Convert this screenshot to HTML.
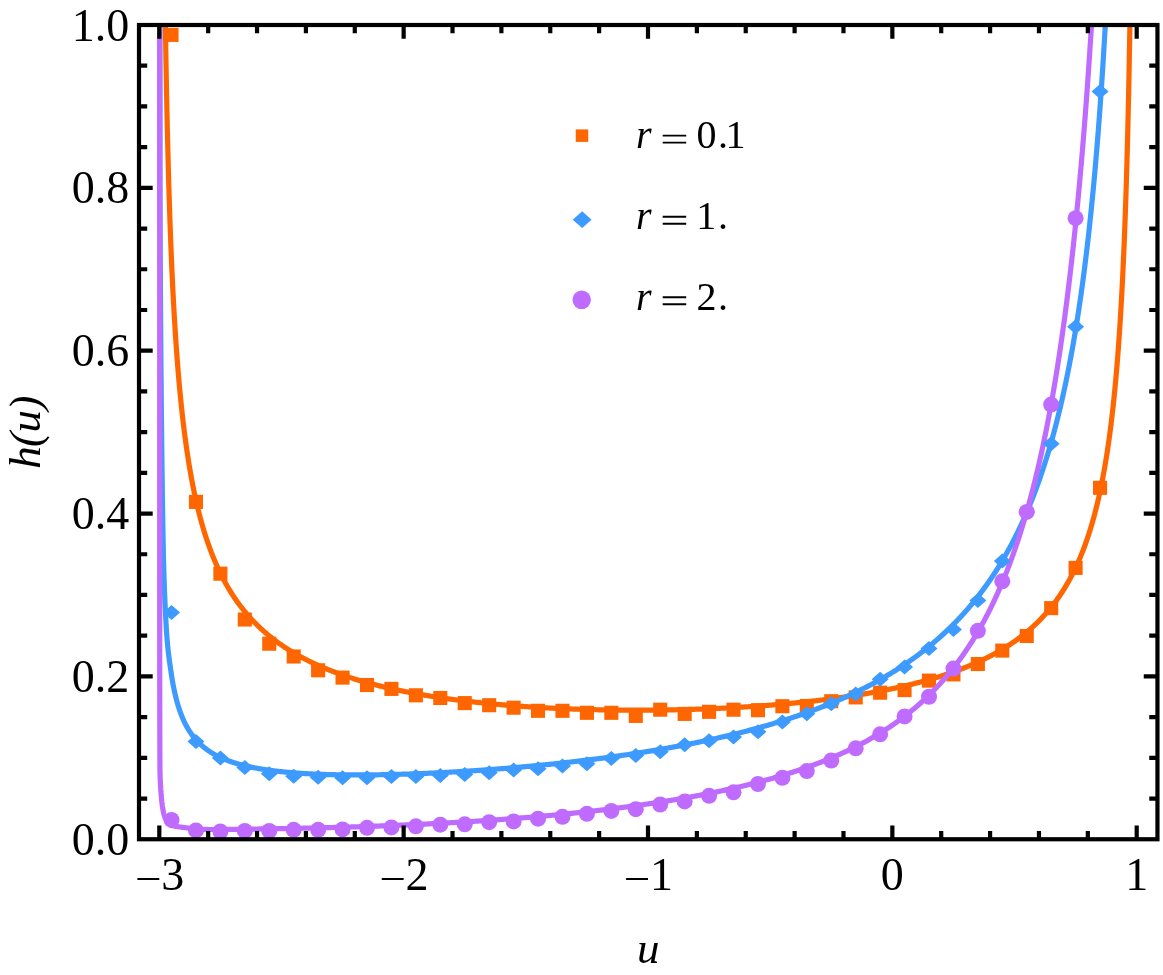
<!DOCTYPE html>
<html><head><meta charset="utf-8"><title>h(u)</title>
<style>
html,body{margin:0;padding:0;background:#fff;}
body{width:1163px;height:975px;overflow:hidden;}
svg{display:block;font-family:"Liberation Serif",serif;will-change:transform;}
</style></head><body>
<svg width="1163" height="975" viewBox="0 0 1163 975">
<rect width="1163" height="975" fill="#fff"/>
<defs><clipPath id="c"><rect x="139.0" y="25.0" width="1018.45" height="814.25"/></clipPath></defs>
<g clip-path="url(#c)" fill="none" stroke-width="5.2" stroke-linejoin="round">
<g fill="#ff6600" stroke="none"><rect x="164.47" y="27.85" width="14.1" height="14.1"/><rect x="188.9" y="494.85" width="14.1" height="14.1"/><rect x="213.34" y="566.65" width="14.1" height="14.1"/><rect x="237.77" y="612.45" width="14.1" height="14.1"/><rect x="262.21" y="636.65" width="14.1" height="14.1"/><rect x="286.64" y="649.45" width="14.1" height="14.1"/><rect x="311.08" y="663.25" width="14.1" height="14.1"/><rect x="335.51" y="670.55" width="14.1" height="14.1"/><rect x="359.95" y="677.95" width="14.1" height="14.1"/><rect x="384.38" y="681.85" width="14.1" height="14.1"/><rect x="408.82" y="688.25" width="14.1" height="14.1"/><rect x="433.25" y="690.95" width="14.1" height="14.1"/><rect x="457.69" y="696.05" width="14.1" height="14.1"/><rect x="482.12" y="698.15" width="14.1" height="14.1"/><rect x="506.56" y="700.65" width="14.1" height="14.1"/><rect x="530.99" y="703.75" width="14.1" height="14.1"/><rect x="555.43" y="703.75" width="14.1" height="14.1"/><rect x="579.86" y="705.75" width="14.1" height="14.1"/><rect x="604.3" y="705.75" width="14.1" height="14.1"/><rect x="628.73" y="708.85" width="14.1" height="14.1"/><rect x="653.17" y="702.65" width="14.1" height="14.1"/><rect x="677.6" y="706.85" width="14.1" height="14.1"/><rect x="702.04" y="704.75" width="14.1" height="14.1"/><rect x="726.47" y="702.65" width="14.1" height="14.1"/><rect x="750.91" y="703.15" width="14.1" height="14.1"/><rect x="775.34" y="699.15" width="14.1" height="14.1"/><rect x="799.78" y="698.95" width="14.1" height="14.1"/><rect x="824.21" y="694.15" width="14.1" height="14.1"/><rect x="848.65" y="690.35" width="14.1" height="14.1"/><rect x="873.08" y="685.65" width="14.1" height="14.1"/><rect x="897.52" y="683.05" width="14.1" height="14.1"/><rect x="921.95" y="673.55" width="14.1" height="14.1"/><rect x="946.39" y="667.35" width="14.1" height="14.1"/><rect x="970.82" y="656.95" width="14.1" height="14.1"/><rect x="995.26" y="643.55" width="14.1" height="14.1"/><rect x="1019.69" y="628.95" width="14.1" height="14.1"/><rect x="1044.13" y="601.05" width="14.1" height="14.1"/><rect x="1068.56" y="560.85" width="14.1" height="14.1"/><rect x="1093" y="480.75" width="14.1" height="14.1"/></g>
<path d="M164.89,-10.28 L165.04,1.12 L165.2,12.22 L165.36,23.02 L165.52,33.54 L165.68,43.79 L165.85,53.78 L166.02,63.51 L166.19,73.01 L166.36,82.27 L166.54,91.3 L166.71,100.12 L166.89,108.73 L167.07,117.13 L167.26,125.35 L167.44,133.37 L167.63,141.21 L167.82,148.88 L168.01,156.38 L168.2,163.71 L168.4,170.89 L168.59,177.91 L168.79,184.78 L169,191.51 L169.2,198.09 L169.41,204.54 L169.61,210.87 L169.83,217.06 L170.04,223.13 L170.25,229.08 L170.47,234.91 L170.69,240.63 L170.91,246.24 L171.13,251.74 L171.36,257.14 L171.58,262.44 L171.81,267.64 L172.04,272.75 L172.28,277.76 L172.51,282.68 L172.75,287.52 L172.99,292.27 L173.23,296.93 L173.47,301.52 L173.72,306.02 L173.97,310.45 L174.22,314.8 L174.47,319.08 L174.72,323.29 L174.98,327.43 L175.24,331.5 L175.5,335.5 L175.76,339.44 L176.03,343.32 L176.29,347.13 L176.56,350.89 L176.83,354.58 L177.11,358.22 L177.38,361.8 L177.66,365.33 L177.94,368.8 L178.22,372.23 L178.5,375.6 L178.79,378.91 L179.07,382.19 L179.36,385.41 L179.65,388.58 L179.95,391.71 L180.24,394.8 L180.54,397.84 L180.84,400.84 L181.14,403.79 L181.45,406.71 L181.75,409.58 L182.06,412.41 L182.37,415.21 L182.68,417.97 L182.99,420.69 L183.31,423.37 L183.63,426.02 L183.95,428.63 L184.27,431.21 L184.6,433.75 L184.92,436.26 L185.25,438.74 L185.58,441.19 L185.91,443.6 L186.25,445.99 L186.58,448.34 L186.92,450.67 L187.26,452.96 L187.6,455.23 L187.95,457.47 L188.29,459.68 L188.64,461.87 L188.99,464.03 L189.35,466.16 L189.7,468.27 L190.06,470.35 L190.42,472.41 L190.78,474.44 L191.14,476.45 L191.5,478.43 L191.87,480.4 L192.24,482.34 L192.61,484.26 L192.98,486.15 L193.36,488.03 L193.73,489.88 L194.11,491.71 L194.49,493.52 L194.87,495.32 L195.26,497.09 L195.64,498.84 L196.03,500.57 L196.42,502.29 L196.82,503.98 L197.21,505.66 L197.61,507.32 L198,508.96 L198.41,510.59 L198.81,512.19 L199.21,513.78 L199.62,515.36 L200.03,516.92 L200.44,518.46 L200.85,519.98 L201.26,521.49 L201.68,522.99 L202.1,524.46 L202.52,525.93 L202.94,527.38 L203.36,528.81 L203.79,530.23 L204.22,531.64 L204.65,533.03 L205.08,534.41 L205.51,535.77 L205.95,537.12 L206.38,538.46 L206.82,539.79 L207.27,541.1 L207.71,542.4 L208.15,543.69 L208.6,544.96 L209.05,546.23 L209.5,547.48 L209.95,548.72 L210.41,549.94 L210.87,551.16 L211.32,552.36 L211.79,553.56 L212.25,554.74 L212.71,555.91 L213.18,557.07 L213.65,558.22 L214.12,559.36 L214.59,560.49 L215.06,561.61 L215.54,562.72 L216.02,563.82 L216.5,564.91 L216.98,565.99 L217.46,567.06 L217.95,568.12 L218.43,569.18 L218.92,570.22 L219.42,571.25 L219.91,572.28 L220.4,573.29 L220.9,574.3 L221.4,575.3 L221.9,576.29 L222.4,577.27 L222.9,578.24 L223.41,579.2 L223.92,580.16 L224.43,581.11 L224.94,582.05 L225.45,582.98 L225.97,583.91 L226.49,584.82 L227.01,585.73 L227.53,586.64 L228.05,587.53 L228.57,588.42 L229.1,589.3 L229.63,590.17 L230.16,591.04 L230.69,591.9 L231.22,592.75 L231.76,593.59 L232.3,594.43 L232.84,595.26 L233.38,596.09 L233.92,596.91 L234.46,597.72 L235.01,598.52 L235.56,599.32 L236.11,600.12 L236.66,600.9 L237.22,601.68 L237.77,602.46 L238.33,603.23 L238.89,603.99 L239.45,604.75 L240.01,605.5 L240.58,606.24 L241.14,606.98 L241.71,607.72 L242.28,608.45 L242.85,609.17 L243.43,609.89 L244,610.6 L244.58,611.3 L245.16,612.01 L245.74,612.7 L246.32,613.39 L246.9,614.08 L247.49,614.76 L248.08,615.44 L248.67,616.11 L249.26,616.77 L249.85,617.43 L250.44,618.09 L251.04,618.74 L251.64,619.39 L252.24,620.03 L252.84,620.67 L253.44,621.3 L254.05,621.93 L254.66,622.55 L255.26,623.17 L255.87,623.78 L256.49,624.39 L257.1,625 L257.71,625.6 L258.33,626.2 L258.95,626.79 L259.57,627.38 L260.19,627.97 L260.82,628.55 L261.44,629.12 L262.07,629.7 L262.7,630.26 L263.33,630.83 L263.96,631.39 L264.6,631.95 L265.23,632.5 L265.87,633.05 L266.51,633.59 L267.15,634.14 L267.79,634.67 L268.44,635.21 L269.08,635.74 L269.73,636.27 L270.38,636.79 L271.03,637.31 L271.68,637.83 L272.34,638.34 L272.99,638.85 L273.65,639.35 L274.31,639.86 L274.97,640.36 L275.63,640.85 L276.29,641.35 L276.96,641.83 L277.63,642.32 L278.3,642.8 L278.97,643.28 L279.64,643.76 L280.31,644.23 L280.99,644.7 L281.66,645.17 L282.34,645.63 L283.02,646.09 L283.7,646.55 L284.39,647.01 L285.07,647.46 L285.76,647.91 L286.45,648.36 L287.14,648.8 L287.83,649.24 L288.52,649.68 L289.21,650.11 L289.91,650.54 L290.61,650.97 L291.31,651.4 L292.01,651.82 L292.71,652.24 L293.41,652.66 L294.12,653.08 L294.83,653.49 L295.54,653.9 L296.25,654.31 L296.96,654.71 L297.67,655.11 L298.38,655.51 L299.1,655.91 L299.82,656.31 L300.54,656.7 L301.26,657.09 L301.98,657.48 L302.7,657.86 L303.43,658.24 L304.16,658.62 L304.88,659 L305.61,659.38 L306.35,659.75 L307.08,660.12 L307.81,660.49 L308.55,660.85 L309.29,661.22 L310.03,661.58 L310.77,661.94 L311.51,662.3 L312.25,662.65 L313,663 L313.74,663.35 L314.49,663.7 L315.24,664.05 L315.99,664.39 L316.74,664.73 L317.49,665.07 L318.25,665.41 L319.01,665.75 L319.76,666.08 L320.52,666.41 L321.28,666.74 L322.05,667.07 L322.81,667.39 L323.57,667.72 L324.34,668.04 L325.11,668.36 L325.88,668.68 L326.65,668.99 L327.42,669.31 L328.19,669.62 L328.97,669.93 L329.75,670.24 L330.52,670.54 L331.3,670.85 L332.08,671.15 L332.86,671.45 L333.65,671.75 L334.43,672.04 L335.22,672.34 L336.01,672.63 L336.79,672.92 L337.58,673.21 L338.38,673.5 L339.17,673.79 L339.96,674.07 L340.76,674.36 L341.56,674.64 L342.35,674.92 L343.15,675.19 L343.95,675.47 L344.76,675.74 L345.56,676.02 L346.37,676.29 L347.17,676.56 L347.98,676.82 L348.79,677.09 L349.6,677.36 L350.41,677.62 L351.22,677.88 L352.04,678.14 L352.85,678.4 L353.67,678.65 L354.49,678.91 L355.31,679.16 L356.13,679.42 L356.95,679.67 L357.77,679.92 L358.6,680.16 L359.42,680.41 L360.25,680.65 L361.08,680.9 L361.91,681.14 L362.74,681.38 L363.57,681.62 L364.4,681.85 L365.24,682.09 L366.07,682.32 L366.91,682.56 L367.75,682.79 L368.59,683.02 L369.43,683.25 L370.27,683.48 L371.11,683.7 L371.96,683.93 L372.8,684.15 L373.65,684.37 L374.5,684.59 L375.35,684.81 L376.2,685.03 L377.05,685.25 L377.9,685.46 L378.75,685.68 L379.61,685.89 L380.47,686.1 L381.32,686.31 L382.18,686.52 L383.04,686.73 L383.9,686.93 L384.76,687.14 L385.63,687.34 L386.49,687.54 L387.36,687.75 L388.22,687.95 L389.09,688.14 L389.96,688.34 L390.83,688.54 L391.7,688.73 L392.58,688.93 L393.45,689.12 L394.32,689.31 L395.2,689.5 L396.08,689.69 L396.95,689.88 L397.83,690.07 L398.71,690.25 L399.59,690.44 L400.48,690.62 L401.36,690.8 L402.24,690.98 L403.13,691.16 L404.02,691.34 L404.9,691.52 L405.79,691.7 L406.68,691.87 L407.57,692.05 L408.47,692.22 L409.36,692.39 L410.25,692.57 L411.15,692.74 L412.04,692.9 L412.94,693.07 L413.84,693.24 L414.74,693.41 L415.64,693.57 L416.54,693.73 L417.44,693.9 L418.35,694.06 L419.25,694.22 L420.15,694.38 L421.06,694.54 L421.97,694.7 L422.88,694.85 L423.79,695.01 L424.7,695.16 L425.61,695.32 L426.52,695.47 L427.43,695.62 L428.35,695.77 L429.26,695.92 L430.18,696.07 L431.1,696.22 L432.01,696.36 L432.93,696.51 L433.85,696.65 L434.77,696.8 L435.69,696.94 L436.62,697.08 L437.54,697.22 L438.47,697.36 L439.39,697.5 L440.32,697.64 L441.24,697.78 L442.17,697.91 L443.1,698.05 L444.03,698.18 L444.96,698.32 L445.89,698.45 L446.83,698.58 L447.76,698.71 L448.7,698.84 L449.63,698.97 L450.57,699.1 L451.5,699.23 L452.44,699.35 L453.38,699.48 L454.32,699.6 L455.26,699.73 L456.2,699.85 L457.14,699.97 L458.09,700.09 L459.03,700.21 L459.98,700.33 L460.92,700.45 L461.87,700.57 L462.81,700.69 L463.76,700.8 L464.71,700.92 L465.66,701.03 L466.61,701.15 L467.56,701.26 L468.51,701.37 L469.47,701.48 L470.42,701.59 L471.37,701.7 L472.33,701.81 L473.29,701.92 L474.24,702.02 L475.2,702.13 L476.16,702.24 L477.12,702.34 L478.08,702.44 L479.04,702.55 L480,702.65 L480.96,702.75 L481.92,702.85 L482.89,702.95 L483.85,703.05 L484.81,703.15 L485.78,703.25 L486.75,703.34 L487.71,703.44 L488.68,703.53 L489.65,703.63 L490.62,703.72 L491.59,703.81 L492.56,703.91 L493.53,704 L494.5,704.09 L495.47,704.18 L496.45,704.27 L497.42,704.36 L498.39,704.44 L499.37,704.53 L500.34,704.62 L501.32,704.7 L502.3,704.79 L503.28,704.87 L504.25,704.95 L505.23,705.04 L506.21,705.12 L507.19,705.2 L508.17,705.28 L509.15,705.36 L510.14,705.44 L511.12,705.52 L512.1,705.59 L513.09,705.67 L514.07,705.75 L515.06,705.82 L516.04,705.9 L517.03,705.97 L518.01,706.04 L519,706.12 L519.99,706.19 L520.98,706.26 L521.97,706.33 L522.96,706.4 L523.95,706.47 L524.94,706.54 L525.93,706.6 L526.92,706.67 L527.91,706.74 L528.9,706.8 L529.9,706.87 L530.89,706.93 L531.89,707 L532.88,707.06 L533.88,707.12 L534.87,707.18 L535.87,707.24 L536.87,707.3 L537.86,707.36 L538.86,707.42 L539.86,707.48 L540.86,707.54 L541.86,707.6 L542.86,707.65 L543.86,707.71 L544.86,707.76 L545.86,707.82 L546.86,707.87 L547.86,707.92 L548.86,707.98 L549.87,708.03 L550.87,708.08 L551.87,708.13 L552.88,708.18 L553.88,708.23 L554.89,708.28 L555.89,708.33 L556.9,708.37 L557.9,708.42 L558.91,708.47 L559.92,708.51 L560.93,708.56 L561.93,708.6 L562.94,708.64 L563.95,708.69 L564.96,708.73 L565.97,708.77 L566.98,708.81 L567.99,708.85 L569,708.89 L570.01,708.93 L571.02,708.97 L572.03,709.01 L573.04,709.04 L574.05,709.08 L575.07,709.12 L576.08,709.15 L577.09,709.19 L578.1,709.22 L579.12,709.26 L580.13,709.29 L581.15,709.32 L582.16,709.35 L583.17,709.38 L584.19,709.41 L585.21,709.44 L586.22,709.47 L587.24,709.5 L588.25,709.53 L589.27,709.56 L590.29,709.59 L591.3,709.61 L592.32,709.64 L593.34,709.66 L594.35,709.69 L595.37,709.71 L596.39,709.73 L597.41,709.76 L598.43,709.78 L599.45,709.8 L600.46,709.82 L601.48,709.84 L602.5,709.86 L603.52,709.88 L604.54,709.9 L605.56,709.92 L606.58,709.94 L607.6,709.95 L608.62,709.97 L609.64,709.99 L610.66,710 L611.69,710.01 L612.71,710.03 L613.73,710.04 L614.75,710.05 L615.77,710.07 L616.79,710.08 L617.81,710.09 L618.84,710.1 L619.86,710.11 L620.88,710.12 L621.9,710.13 L622.93,710.14 L623.95,710.14 L624.97,710.15 L625.99,710.16 L627.02,710.16 L628.04,710.17 L629.06,710.17 L630.09,710.18 L631.11,710.18 L632.13,710.18 L633.16,710.19 L634.18,710.19 L635.2,710.19 L636.23,710.19 L637.25,710.19 L638.27,710.19 L639.3,710.19 L640.32,710.19 L641.34,710.18 L642.37,710.18 L643.39,710.18 L644.42,710.17 L645.44,710.17 L646.46,710.16 L647.49,710.16 L648.51,710.15 L649.54,710.15 L650.56,710.14 L651.58,710.13 L652.61,710.12 L653.63,710.11 L654.66,710.1 L655.68,710.09 L656.7,710.08 L657.73,710.07 L658.75,710.06 L659.77,710.05 L660.8,710.03 L661.82,710.02 L662.84,710.01 L663.87,709.99 L664.89,709.98 L665.91,709.96 L666.94,709.94 L667.96,709.93 L668.98,709.91 L670.01,709.89 L671.03,709.87 L672.05,709.85 L673.07,709.83 L674.1,709.81 L675.12,709.79 L676.14,709.77 L677.16,709.75 L678.19,709.72 L679.21,709.7 L680.23,709.68 L681.25,709.65 L682.27,709.63 L683.29,709.6 L684.31,709.57 L685.34,709.55 L686.36,709.52 L687.38,709.49 L688.4,709.46 L689.42,709.43 L690.44,709.4 L691.46,709.37 L692.48,709.34 L693.5,709.31 L694.52,709.28 L695.54,709.25 L696.55,709.21 L697.57,709.18 L698.59,709.15 L699.61,709.11 L700.63,709.07 L701.65,709.04 L702.66,709 L703.68,708.96 L704.7,708.93 L705.71,708.89 L706.73,708.85 L707.75,708.81 L708.76,708.77 L709.78,708.73 L710.79,708.69 L711.81,708.64 L712.83,708.6 L713.84,708.56 L714.85,708.52 L715.87,708.47 L716.88,708.43 L717.9,708.38 L718.91,708.33 L719.92,708.29 L720.93,708.24 L721.95,708.19 L722.96,708.14 L723.97,708.09 L724.98,708.04 L725.99,707.99 L727,707.94 L728.01,707.89 L729.02,707.84 L730.03,707.79 L731.04,707.73 L732.05,707.68 L733.06,707.62 L734.07,707.57 L735.07,707.51 L736.08,707.46 L737.09,707.4 L738.1,707.34 L739.1,707.28 L740.11,707.23 L741.11,707.17 L742.12,707.11 L743.12,707.04 L744.13,706.98 L745.13,706.92 L746.13,706.86 L747.14,706.8 L748.14,706.73 L749.14,706.67 L750.14,706.6 L751.14,706.54 L752.14,706.47 L753.14,706.4 L754.14,706.34 L755.14,706.27 L756.14,706.2 L757.14,706.13 L758.14,706.06 L759.13,705.99 L760.13,705.92 L761.13,705.84 L762.12,705.77 L763.12,705.7 L764.11,705.62 L765.11,705.55 L766.1,705.47 L767.1,705.4 L768.09,705.32 L769.08,705.24 L770.07,705.17 L771.06,705.09 L772.05,705.01 L773.04,704.93 L774.03,704.85 L775.02,704.77 L776.01,704.68 L777,704.6 L777.99,704.52 L778.97,704.43 L779.96,704.35 L780.94,704.26 L781.93,704.18 L782.91,704.09 L783.9,704 L784.88,703.92 L785.86,703.83 L786.85,703.74 L787.83,703.65 L788.81,703.56 L789.79,703.47 L790.77,703.37 L791.75,703.28 L792.72,703.19 L793.7,703.09 L794.68,703 L795.66,702.9 L796.63,702.81 L797.61,702.71 L798.58,702.61 L799.55,702.51 L800.53,702.41 L801.5,702.31 L802.47,702.21 L803.44,702.11 L804.41,702.01 L805.38,701.91 L806.35,701.8 L807.32,701.7 L808.29,701.59 L809.25,701.49 L810.22,701.38 L811.19,701.27 L812.15,701.17 L813.11,701.06 L814.08,700.95 L815.04,700.84 L816,700.73 L816.96,700.61 L817.92,700.5 L818.88,700.39 L819.84,700.27 L820.8,700.16 L821.76,700.04 L822.71,699.93 L823.67,699.81 L824.63,699.69 L825.58,699.57 L826.53,699.45 L827.49,699.33 L828.44,699.21 L829.39,699.09 L830.34,698.97 L831.29,698.84 L832.24,698.72 L833.19,698.59 L834.13,698.47 L835.08,698.34 L836.02,698.21 L836.97,698.08 L837.91,697.96 L838.86,697.83 L839.8,697.69 L840.74,697.56 L841.68,697.43 L842.62,697.3 L843.56,697.16 L844.5,697.03 L845.43,696.89 L846.37,696.75 L847.3,696.62 L848.24,696.48 L849.17,696.34 L850.11,696.2 L851.04,696.06 L851.97,695.92 L852.9,695.77 L853.83,695.63 L854.76,695.48 L855.68,695.34 L856.61,695.19 L857.53,695.04 L858.46,694.9 L859.38,694.75 L860.31,694.6 L861.23,694.45 L862.15,694.29 L863.07,694.14 L863.99,693.99 L864.9,693.83 L865.82,693.68 L866.74,693.52 L867.65,693.36 L868.57,693.2 L869.48,693.04 L870.39,692.88 L871.3,692.72 L872.21,692.56 L873.12,692.4 L874.03,692.23 L874.94,692.07 L875.85,691.9 L876.75,691.73 L877.65,691.56 L878.56,691.39 L879.46,691.22 L880.36,691.05 L881.26,690.88 L882.16,690.71 L883.06,690.53 L883.96,690.36 L884.85,690.18 L885.75,690 L886.64,689.82 L887.53,689.64 L888.43,689.46 L889.32,689.28 L890.21,689.1 L891.1,688.91 L891.98,688.73 L892.87,688.54 L893.76,688.36 L894.64,688.17 L895.52,687.98 L896.41,687.79 L897.29,687.6 L898.17,687.4 L899.05,687.21 L899.92,687.01 L900.8,686.82 L901.68,686.62 L902.55,686.42 L903.42,686.22 L904.3,686.02 L905.17,685.82 L906.04,685.62 L906.91,685.41 L907.78,685.21 L908.64,685 L909.51,684.79 L910.37,684.58 L911.24,684.37 L912.1,684.16 L912.96,683.95 L913.82,683.73 L914.68,683.52 L915.53,683.3 L916.39,683.08 L917.25,682.86 L918.1,682.64 L918.95,682.42 L919.8,682.2 L920.65,681.97 L921.5,681.75 L922.35,681.52 L923.2,681.29 L924.04,681.06 L924.89,680.83 L925.73,680.6 L926.57,680.37 L927.41,680.13 L928.25,679.89 L929.09,679.66 L929.93,679.42 L930.76,679.18 L931.6,678.93 L932.43,678.69 L933.26,678.45 L934.09,678.2 L934.92,677.95 L935.75,677.7 L936.58,677.45 L937.4,677.2 L938.23,676.95 L939.05,676.69 L939.87,676.43 L940.69,676.18 L941.51,675.92 L942.33,675.65 L943.15,675.39 L943.96,675.13 L944.78,674.86 L945.59,674.59 L946.4,674.33 L947.21,674.06 L948.02,673.78 L948.83,673.51 L949.63,673.23 L950.44,672.96 L951.24,672.68 L952.05,672.4 L952.85,672.12 L953.65,671.83 L954.44,671.55 L955.24,671.26 L956.04,670.97 L956.83,670.68 L957.62,670.39 L958.42,670.09 L959.21,669.8 L959.99,669.5 L960.78,669.2 L961.57,668.9 L962.35,668.6 L963.14,668.29 L963.92,667.99 L964.7,667.68 L965.48,667.37 L966.25,667.06 L967.03,666.74 L967.81,666.43 L968.58,666.11 L969.35,665.79 L970.12,665.47 L970.89,665.14 L971.66,664.82 L972.43,664.49 L973.19,664.16 L973.95,663.83 L974.72,663.5 L975.48,663.16 L976.24,662.82 L976.99,662.48 L977.75,662.14 L978.51,661.8 L979.26,661.45 L980.01,661.1 L980.76,660.75 L981.51,660.4 L982.26,660.05 L983,659.69 L983.75,659.33 L984.49,658.97 L985.23,658.61 L985.97,658.24 L986.71,657.87 L987.45,657.5 L988.19,657.13 L988.92,656.75 L989.65,656.38 L990.39,656 L991.12,655.61 L991.84,655.23 L992.57,654.84 L993.3,654.45 L994.02,654.06 L994.74,653.67 L995.46,653.27 L996.18,652.87 L996.9,652.47 L997.62,652.07 L998.33,651.66 L999.04,651.25 L999.75,650.84 L1000.46,650.42 L1001.17,650 L1001.88,649.58 L1002.59,649.16 L1003.29,648.73 L1003.99,648.31 L1004.69,647.88 L1005.39,647.44 L1006.09,647 L1006.79,646.56 L1007.48,646.12 L1008.17,645.68 L1008.86,645.23 L1009.55,644.78 L1010.24,644.32 L1010.93,643.86 L1011.61,643.4 L1012.3,642.94 L1012.98,642.47 L1013.66,642 L1014.34,641.53 L1015.01,641.06 L1015.69,640.58 L1016.36,640.09 L1017.03,639.61 L1017.7,639.12 L1018.37,638.63 L1019.04,638.13 L1019.71,637.63 L1020.37,637.13 L1021.03,636.63 L1021.69,636.12 L1022.35,635.6 L1023.01,635.09 L1023.66,634.57 L1024.32,634.05 L1024.97,633.52 L1025.62,632.99 L1026.27,632.45 L1026.92,631.92 L1027.56,631.38 L1028.21,630.83 L1028.85,630.28 L1029.49,629.73 L1030.13,629.17 L1030.77,628.61 L1031.4,628.05 L1032.04,627.48 L1032.67,626.9 L1033.3,626.33 L1033.93,625.75 L1034.56,625.16 L1035.18,624.57 L1035.81,623.98 L1036.43,623.38 L1037.05,622.78 L1037.67,622.17 L1038.29,621.56 L1038.9,620.95 L1039.51,620.33 L1040.13,619.7 L1040.74,619.07 L1041.34,618.44 L1041.95,617.8 L1042.56,617.16 L1043.16,616.51 L1043.76,615.86 L1044.36,615.2 L1044.96,614.54 L1045.56,613.87 L1046.15,613.2 L1046.74,612.52 L1047.33,611.84 L1047.92,611.15 L1048.51,610.46 L1049.1,609.76 L1049.68,609.06 L1050.26,608.35 L1050.84,607.64 L1051.42,606.92 L1052,606.19 L1052.57,605.46 L1053.15,604.73 L1053.72,603.98 L1054.29,603.24 L1054.86,602.48 L1055.42,601.72 L1055.99,600.96 L1056.55,600.19 L1057.11,599.41 L1057.67,598.62 L1058.23,597.83 L1058.78,597.04 L1059.34,596.24 L1059.89,595.43 L1060.44,594.61 L1060.99,593.79 L1061.54,592.96 L1062.08,592.12 L1062.62,591.28 L1063.16,590.43 L1063.7,589.57 L1064.24,588.71 L1064.78,587.84 L1065.31,586.96 L1065.84,586.08 L1066.37,585.18 L1066.9,584.28 L1067.43,583.37 L1067.95,582.46 L1068.47,581.54 L1068.99,580.6 L1069.51,579.67 L1070.03,578.72 L1070.55,577.76 L1071.06,576.8 L1071.57,575.83 L1072.08,574.85 L1072.59,573.86 L1073.1,572.86 L1073.6,571.86 L1074.1,570.84 L1074.6,569.82 L1075.1,568.78 L1075.6,567.74 L1076.09,566.69 L1076.58,565.63 L1077.08,564.56 L1077.57,563.48 L1078.05,562.39 L1078.54,561.29 L1079.02,560.18 L1079.5,559.06 L1079.98,557.93 L1080.46,556.79 L1080.94,555.63 L1081.41,554.47 L1081.88,553.3 L1082.35,552.11 L1082.82,550.92 L1083.29,549.71 L1083.75,548.49 L1084.21,547.26 L1084.68,546.02 L1085.13,544.77 L1085.59,543.5 L1086.05,542.23 L1086.5,540.94 L1086.95,539.63 L1087.4,538.32 L1087.85,536.99 L1088.29,535.65 L1088.73,534.29 L1089.18,532.92 L1089.62,531.54 L1090.05,530.14 L1090.49,528.73 L1090.92,527.31 L1091.35,525.87 L1091.78,524.42 L1092.21,522.95 L1092.64,521.46 L1093.06,519.96 L1093.48,518.45 L1093.9,516.92 L1094.32,515.37 L1094.74,513.8 L1095.15,512.22 L1095.56,510.63 L1095.97,509.01 L1096.38,507.38 L1096.79,505.73 L1097.19,504.06 L1097.59,502.38 L1098,500.67 L1098.39,498.95 L1098.79,497.21 L1099.18,495.45 L1099.58,493.66 L1099.97,491.86 L1100.36,490.04 L1100.74,488.2 L1101.13,486.33 L1101.51,484.45 L1101.89,482.54 L1102.27,480.61 L1102.64,478.66 L1103.02,476.69 L1103.39,474.69 L1103.76,472.67 L1104.13,470.62 L1104.5,468.55 L1104.86,466.45 L1105.22,464.33 L1105.58,462.19 L1105.94,460.01 L1106.3,457.81 L1106.65,455.59 L1107.01,453.33 L1107.36,451.05 L1107.71,448.74 L1108.05,446.39 L1108.4,444.02 L1108.74,441.62 L1109.08,439.19 L1109.42,436.72 L1109.75,434.23 L1110.09,431.7 L1110.42,429.13 L1110.75,426.54 L1111.08,423.9 L1111.4,421.24 L1111.73,418.53 L1112.05,415.79 L1112.37,413.02 L1112.69,410.2 L1113.01,407.34 L1113.32,404.45 L1113.63,401.51 L1113.94,398.53 L1114.25,395.51 L1114.55,392.45 L1114.86,389.34 L1115.16,386.19 L1115.46,382.99 L1115.76,379.74 L1116.05,376.44 L1116.35,373.1 L1116.64,369.7 L1116.93,366.26 L1117.21,362.76 L1117.5,359.21 L1117.78,355.6 L1118.06,351.93 L1118.34,348.21 L1118.62,344.43 L1118.89,340.59 L1119.17,336.68 L1119.44,332.71 L1119.71,328.68 L1119.97,324.58 L1120.24,320.42 L1120.5,316.18 L1120.76,311.87 L1121.02,307.49 L1121.28,303.04 L1121.53,298.5 L1121.78,293.89 L1122.03,289.2 L1122.28,284.42 L1122.53,279.56 L1122.77,274.61 L1123.01,269.57 L1123.25,264.44 L1123.49,259.21 L1123.72,253.89 L1123.96,248.46 L1124.19,242.93 L1124.42,237.3 L1124.64,231.56 L1124.87,225.7 L1125.09,219.73 L1125.31,213.64 L1125.53,207.43 L1125.75,201.1 L1125.96,194.63 L1126.17,188.03 L1126.39,181.29 L1126.59,174.41 L1126.8,167.38 L1127,160.2 L1127.21,152.87 L1127.41,145.37 L1127.6,137.71 L1127.8,129.87 L1127.99,121.86 L1128.18,113.66 L1128.37,105.27 L1128.56,96.69 L1128.74,87.9 L1128.93,78.9 L1129.11,69.68 L1129.29,60.23 L1129.46,50.55 L1129.64,40.63 L1129.81,30.45 L1129.98,20.01 L1130.15,9.29 L1130.32,-1.71 L1130.48,-13" stroke="#ff6600"/>
<path d="M159.85,10 L159.85,15.61 L159.86,21.18 L159.86,26.73 L159.86,32.27 L159.86,37.79 L159.87,43.31 L159.87,48.84 L159.87,54.38 L159.87,59.93 L159.88,65.52 L159.88,71.14 L159.88,76.8 L159.89,82.51 L159.89,88.27 L159.9,94.1 L159.9,100 L159.9,105.98 L159.91,112.02 L159.91,118.13 L159.91,124.3 L159.91,130.51 L159.92,136.77 L159.92,143.06 L159.92,149.38 L159.93,155.71 L159.93,162.06 L159.94,168.41 L159.95,174.77 L159.96,181.11 L159.97,187.43 L159.98,193.73 L160,200 L160.02,206.3 L160.04,212.71 L160.07,219.18 L160.1,225.7 L160.13,232.26 L160.16,238.82 L160.19,245.36 L160.22,251.88 L160.26,258.33 L160.29,264.7 L160.33,270.97 L160.37,277.11 L160.4,283.11 L160.43,288.94 L160.47,294.57 L160.5,300 L160.53,305.2 L160.56,310.19 L160.59,314.98 L160.62,319.61 L160.65,324.09 L160.68,328.45 L160.71,332.7 L160.74,336.88 L160.77,340.99 L160.8,345.07 L160.83,349.13 L160.86,353.2 L160.89,357.3 L160.93,361.46 L160.96,365.68 L161,370 L161.04,374.38 L161.08,378.75 L161.12,383.12 L161.16,387.5 L161.2,391.88 L161.24,396.25 L161.28,400.62 L161.33,405 L161.37,409.38 L161.41,413.75 L161.46,418.12 L161.51,422.5 L161.55,426.88 L161.6,431.25 L161.65,435.62 L161.7,440 L161.75,444.39 L161.8,448.82 L161.85,453.27 L161.9,457.73 L161.96,462.21 L162.01,466.69 L162.06,471.16 L162.12,475.62 L162.17,480.07 L162.23,484.48 L162.29,488.86 L162.35,493.2 L162.41,497.49 L162.47,501.73 L162.54,505.9 L162.6,510 L162.67,514.05 L162.73,518.08 L162.8,522.08 L162.86,526.05 L162.93,529.99 L163,533.89 L163.07,537.75 L163.14,541.56 L163.22,545.33 L163.29,549.04 L163.37,552.69 L163.45,556.29 L163.53,559.82 L163.62,563.29 L163.71,566.68 L163.8,570 L163.9,573.25 L163.99,576.45 L164.1,579.58 L164.2,582.66 L164.31,585.67 L164.42,588.63 L164.54,591.53 L164.65,594.38 L164.77,597.16 L164.88,599.88 L165,602.55 L165.12,605.16 L165.24,607.71 L165.36,610.2 L165.48,612.63 L165.6,615 L165.72,617.29 L165.83,619.49 L165.94,621.6 L166.05,623.63 L166.16,625.59 L166.27,627.49 L166.39,629.34 L166.5,631.14 L166.62,632.91 L166.74,634.65 L166.86,636.37 L167,638.08 L167.14,639.79 L167.28,641.51 L167.44,643.24 L167.6,645 L167.77,646.77 L167.95,648.53 L168.14,650.28 L168.34,652.02 L168.54,653.74 L168.75,655.46 L168.96,657.16 L169.17,658.85 L169.4,660.52 L169.62,662.18 L169.85,663.81 L170.07,665.43 L170.31,667.03 L170.54,668.61 L170.77,670.17 L171,671.7 L171.13,672.61 L171.36,674.12 L171.58,675.6 L171.81,677.06 L172.04,678.48 L172.28,679.88 L172.51,681.26 L172.75,682.6 L172.99,683.92 L173.23,685.22 L173.47,686.49 L173.72,687.74 L173.97,688.97 L174.22,690.17 L174.47,691.35 L174.72,692.52 L174.98,693.66 L175.24,694.78 L175.5,695.88 L175.76,696.96 L176.03,698.03 L176.29,699.07 L176.56,700.1 L176.83,701.11 L177.11,702.11 L177.38,703.09 L177.66,704.05 L177.94,704.99 L178.22,705.92 L178.5,706.84 L178.79,707.74 L179.07,708.63 L179.36,709.5 L179.65,710.36 L179.95,711.2 L180.24,712.04 L180.54,712.86 L180.84,713.66 L181.14,714.46 L181.45,715.24 L181.75,716.01 L182.06,716.77 L182.37,717.52 L182.68,718.25 L182.99,718.98 L183.31,719.69 L183.63,720.4 L183.95,721.09 L184.27,721.78 L184.6,722.45 L184.92,723.12 L185.25,723.77 L185.58,724.42 L185.91,725.05 L186.25,725.68 L186.58,726.3 L186.92,726.91 L187.26,727.52 L187.6,728.11 L187.95,728.7 L188.29,729.27 L188.64,729.84 L188.99,730.41 L189.35,730.96 L189.7,731.51 L190.06,732.05 L190.42,732.58 L190.78,733.11 L191.14,733.63 L191.5,734.14 L191.87,734.65 L192.24,735.14 L192.61,735.64 L192.98,736.12 L193.36,736.6 L193.73,737.08 L194.11,737.55 L194.49,738.01 L194.87,738.46 L195.26,738.91 L195.64,739.36 L196.03,739.8 L196.42,740.23 L196.82,740.66 L197.21,741.08 L197.61,741.5 L198,741.91 L198.41,742.32 L198.81,742.72 L199.21,743.12 L199.62,743.52 L200.03,743.9 L200.44,744.29 L200.85,744.67 L201.26,745.04 L201.68,745.41 L202.1,745.78 L202.52,746.14 L202.94,746.5 L203.36,746.85 L203.79,747.2 L204.22,747.54 L204.65,747.88 L205.08,748.22 L205.51,748.55 L205.95,748.88 L206.38,749.21 L206.82,749.53 L207.27,749.84 L207.71,750.16 L208.15,750.47 L208.6,750.78 L209.05,751.08 L209.5,751.38 L209.95,751.68 L210.41,751.97 L210.87,752.26 L211.32,752.55 L211.79,752.83 L212.25,753.11 L212.71,753.39 L213.18,753.66 L213.65,753.93 L214.12,754.2 L214.59,754.46 L215.06,754.73 L215.54,754.98 L216.02,755.24 L216.5,755.49 L216.98,755.74 L217.46,755.99 L217.95,756.24 L218.43,756.48 L218.92,756.72 L219.42,756.96 L219.91,757.19 L220.4,757.42 L220.9,757.65 L221.4,757.88 L221.9,758.1 L222.4,758.33 L222.9,758.55 L223.41,758.76 L223.92,758.98 L224.43,759.19 L224.94,759.4 L225.45,759.61 L225.97,759.81 L226.49,760.02 L227.01,760.22 L227.53,760.42 L228.05,760.61 L228.57,760.81 L229.1,761 L229.63,761.19 L230.16,761.38 L230.69,761.57 L231.22,761.75 L231.76,761.93 L232.3,762.12 L232.84,762.29 L233.38,762.47 L233.92,762.65 L234.46,762.82 L235.01,762.99 L235.56,763.16 L236.11,763.33 L236.66,763.49 L237.22,763.66 L237.77,763.82 L238.33,763.98 L238.89,764.14 L239.45,764.29 L240.01,764.45 L240.58,764.6 L241.14,764.75 L241.71,764.9 L242.28,765.05 L242.85,765.2 L243.43,765.35 L244,765.49 L244.58,765.63 L245.16,765.77 L245.74,765.91 L246.32,766.05 L246.9,766.19 L247.49,766.32 L248.08,766.45 L248.67,766.58 L249.26,766.72 L249.85,766.84 L250.44,766.97 L251.04,767.1 L251.64,767.22 L252.24,767.35 L252.84,767.47 L253.44,767.59 L254.05,767.71 L254.66,767.82 L255.26,767.94 L255.87,768.06 L256.49,768.17 L257.1,768.28 L257.71,768.39 L258.33,768.5 L258.95,768.61 L259.57,768.72 L260.19,768.83 L260.82,768.93 L261.44,769.04 L262.07,769.14 L262.7,769.24 L263.33,769.34 L263.96,769.44 L264.6,769.54 L265.23,769.64 L265.87,769.73 L266.51,769.83 L267.15,769.92 L267.79,770.01 L268.44,770.1 L269.08,770.19 L269.73,770.28 L270.38,770.37 L271.03,770.46 L271.68,770.54 L272.34,770.63 L272.99,770.71 L273.65,770.8 L274.31,770.88 L274.97,770.96 L275.63,771.04 L276.29,771.12 L276.96,771.19 L277.63,771.27 L278.3,771.35 L278.97,771.42 L279.64,771.5 L280.31,771.57 L280.99,771.64 L281.66,771.71 L282.34,771.78 L283.02,771.85 L283.7,771.92 L284.39,771.99 L285.07,772.05 L285.76,772.12 L286.45,772.18 L287.14,772.25 L287.83,772.31 L288.52,772.37 L289.21,772.43 L289.91,772.49 L290.61,772.55 L291.31,772.61 L292.01,772.67 L292.71,772.73 L293.41,772.78 L294.12,772.84 L294.83,772.89 L295.54,772.94 L296.25,773 L296.96,773.05 L297.67,773.1 L298.38,773.15 L299.1,773.2 L299.82,773.25 L300.54,773.3 L301.26,773.34 L301.98,773.39 L302.7,773.44 L303.43,773.48 L304.16,773.52 L304.88,773.57 L305.61,773.61 L306.35,773.65 L307.08,773.69 L307.81,773.73 L308.55,773.77 L309.29,773.81 L310.03,773.85 L310.77,773.89 L311.51,773.92 L312.25,773.96 L313,773.99 L313.74,774.03 L314.49,774.06 L315.24,774.1 L315.99,774.13 L316.74,774.16 L317.49,774.19 L318.25,774.22 L319.01,774.25 L319.76,774.28 L320.52,774.31 L321.28,774.34 L322.05,774.36 L322.81,774.39 L323.57,774.42 L324.34,774.44 L325.11,774.46 L325.88,774.49 L326.65,774.51 L327.42,774.53 L328.19,774.56 L328.97,774.58 L329.75,774.6 L330.52,774.62 L331.3,774.64 L332.08,774.66 L332.86,774.67 L333.65,774.69 L334.43,774.71 L335.22,774.72 L336.01,774.74 L336.79,774.75 L337.58,774.77 L338.38,774.78 L339.17,774.8 L339.96,774.81 L340.76,774.82 L341.56,774.83 L342.35,774.84 L343.15,774.85 L343.95,774.86 L344.76,774.87 L345.56,774.88 L346.37,774.89 L347.17,774.89 L347.98,774.9 L348.79,774.91 L349.6,774.91 L350.41,774.92 L351.22,774.92 L352.04,774.93 L352.85,774.93 L353.67,774.93 L354.49,774.93 L355.31,774.94 L356.13,774.94 L356.95,774.94 L357.77,774.94 L358.6,774.94 L359.42,774.94 L360.25,774.93 L361.08,774.93 L361.91,774.93 L362.74,774.93 L363.57,774.92 L364.4,774.92 L365.24,774.91 L366.07,774.91 L366.91,774.9 L367.75,774.9 L368.59,774.89 L369.43,774.88 L370.27,774.87 L371.11,774.86 L371.96,774.85 L372.8,774.85 L373.65,774.84 L374.5,774.82 L375.35,774.81 L376.2,774.8 L377.05,774.79 L377.9,774.78 L378.75,774.76 L379.61,774.75 L380.47,774.74 L381.32,774.72 L382.18,774.71 L383.04,774.69 L383.9,774.67 L384.76,774.66 L385.63,774.64 L386.49,774.62 L387.36,774.6 L388.22,774.58 L389.09,774.57 L389.96,774.55 L390.83,774.53 L391.7,774.5 L392.58,774.48 L393.45,774.46 L394.32,774.44 L395.2,774.42 L396.08,774.39 L396.95,774.37 L397.83,774.35 L398.71,774.32 L399.59,774.3 L400.48,774.27 L401.36,774.24 L402.24,774.22 L403.13,774.19 L404.02,774.16 L404.9,774.13 L405.79,774.11 L406.68,774.08 L407.57,774.05 L408.47,774.02 L409.36,773.99 L410.25,773.96 L411.15,773.92 L412.04,773.89 L412.94,773.86 L413.84,773.83 L414.74,773.79 L415.64,773.76 L416.54,773.73 L417.44,773.69 L418.35,773.66 L419.25,773.62 L420.15,773.58 L421.06,773.55 L421.97,773.51 L422.88,773.47 L423.79,773.43 L424.7,773.4 L425.61,773.36 L426.52,773.32 L427.43,773.28 L428.35,773.24 L429.26,773.2 L430.18,773.15 L431.1,773.11 L432.01,773.07 L432.93,773.03 L433.85,772.98 L434.77,772.94 L435.69,772.9 L436.62,772.85 L437.54,772.81 L438.47,772.76 L439.39,772.71 L440.32,772.67 L441.24,772.62 L442.17,772.57 L443.1,772.53 L444.03,772.48 L444.96,772.43 L445.89,772.38 L446.83,772.33 L447.76,772.28 L448.7,772.23 L449.63,772.18 L450.57,772.12 L451.5,772.07 L452.44,772.02 L453.38,771.97 L454.32,771.91 L455.26,771.86 L456.2,771.8 L457.14,771.75 L458.09,771.69 L459.03,771.64 L459.98,771.58 L460.92,771.52 L461.87,771.47 L462.81,771.41 L463.76,771.35 L464.71,771.29 L465.66,771.23 L466.61,771.17 L467.56,771.11 L468.51,771.05 L469.47,770.99 L470.42,770.93 L471.37,770.87 L472.33,770.8 L473.29,770.74 L474.24,770.68 L475.2,770.61 L476.16,770.55 L477.12,770.48 L478.08,770.42 L479.04,770.35 L480,770.29 L480.96,770.22 L481.92,770.15 L482.89,770.08 L483.85,770.02 L484.81,769.95 L485.78,769.88 L486.75,769.81 L487.71,769.74 L488.68,769.67 L489.65,769.6 L490.62,769.52 L491.59,769.45 L492.56,769.38 L493.53,769.3 L494.5,769.23 L495.47,769.16 L496.45,769.08 L497.42,769.01 L498.39,768.93 L499.37,768.85 L500.34,768.78 L501.32,768.7 L502.3,768.62 L503.28,768.55 L504.25,768.47 L505.23,768.39 L506.21,768.31 L507.19,768.23 L508.17,768.15 L509.15,768.07 L510.14,767.98 L511.12,767.9 L512.1,767.82 L513.09,767.74 L514.07,767.65 L515.06,767.57 L516.04,767.48 L517.03,767.4 L518.01,767.31 L519,767.22 L519.99,767.14 L520.98,767.05 L521.97,766.96 L522.96,766.87 L523.95,766.79 L524.94,766.7 L525.93,766.61 L526.92,766.52 L527.91,766.42 L528.9,766.33 L529.9,766.24 L530.89,766.15 L531.89,766.05 L532.88,765.96 L533.88,765.87 L534.87,765.77 L535.87,765.68 L536.87,765.58 L537.86,765.48 L538.86,765.39 L539.86,765.29 L540.86,765.19 L541.86,765.09 L542.86,764.99 L543.86,764.9 L544.86,764.79 L545.86,764.69 L546.86,764.59 L547.86,764.49 L548.86,764.39 L549.87,764.29 L550.87,764.18 L551.87,764.08 L552.88,763.97 L553.88,763.87 L554.89,763.76 L555.89,763.66 L556.9,763.55 L557.9,763.44 L558.91,763.33 L559.92,763.23 L560.93,763.12 L561.93,763.01 L562.94,762.9 L563.95,762.79 L564.96,762.67 L565.97,762.56 L566.98,762.45 L567.99,762.34 L569,762.22 L570.01,762.11 L571.02,761.99 L572.03,761.88 L573.04,761.76 L574.05,761.64 L575.07,761.53 L576.08,761.41 L577.09,761.29 L578.1,761.17 L579.12,761.05 L580.13,760.93 L581.15,760.81 L582.16,760.69 L583.17,760.57 L584.19,760.44 L585.21,760.32 L586.22,760.2 L587.24,760.07 L588.25,759.95 L589.27,759.82 L590.29,759.69 L591.3,759.57 L592.32,759.44 L593.34,759.31 L594.35,759.18 L595.37,759.05 L596.39,758.92 L597.41,758.79 L598.43,758.66 L599.45,758.52 L600.46,758.39 L601.48,758.26 L602.5,758.12 L603.52,757.99 L604.54,757.85 L605.56,757.72 L606.58,757.58 L607.6,757.44 L608.62,757.3 L609.64,757.16 L610.66,757.02 L611.69,756.88 L612.71,756.74 L613.73,756.6 L614.75,756.46 L615.77,756.32 L616.79,756.17 L617.81,756.03 L618.84,755.88 L619.86,755.74 L620.88,755.59 L621.9,755.44 L622.93,755.29 L623.95,755.15 L624.97,755 L625.99,754.85 L627.02,754.7 L628.04,754.54 L629.06,754.39 L630.09,754.24 L631.11,754.08 L632.13,753.93 L633.16,753.77 L634.18,753.62 L635.2,753.46 L636.23,753.3 L637.25,753.15 L638.27,752.99 L639.3,752.83 L640.32,752.67 L641.34,752.51 L642.37,752.34 L643.39,752.18 L644.42,752.02 L645.44,751.85 L646.46,751.69 L647.49,751.52 L648.51,751.36 L649.54,751.19 L650.56,751.02 L651.58,750.85 L652.61,750.68 L653.63,750.51 L654.66,750.34 L655.68,750.17 L656.7,750 L657.73,749.82 L658.75,749.65 L659.77,749.47 L660.8,749.3 L661.82,749.12 L662.84,748.94 L663.87,748.76 L664.89,748.58 L665.91,748.4 L666.94,748.22 L667.96,748.04 L668.98,747.86 L670.01,747.67 L671.03,747.49 L672.05,747.3 L673.07,747.12 L674.1,746.93 L675.12,746.74 L676.14,746.55 L677.16,746.36 L678.19,746.17 L679.21,745.98 L680.23,745.79 L681.25,745.59 L682.27,745.4 L683.29,745.2 L684.31,745.01 L685.34,744.81 L686.36,744.61 L687.38,744.41 L688.4,744.21 L689.42,744.01 L690.44,743.81 L691.46,743.61 L692.48,743.41 L693.5,743.2 L694.52,743 L695.54,742.79 L696.55,742.58 L697.57,742.38 L698.59,742.17 L699.61,741.96 L700.63,741.75 L701.65,741.53 L702.66,741.32 L703.68,741.11 L704.7,740.89 L705.71,740.67 L706.73,740.46 L707.75,740.24 L708.76,740.02 L709.78,739.8 L710.79,739.58 L711.81,739.36 L712.83,739.13 L713.84,738.91 L714.85,738.69 L715.87,738.46 L716.88,738.23 L717.9,738 L718.91,737.77 L719.92,737.54 L720.93,737.31 L721.95,737.08 L722.96,736.85 L723.97,736.61 L724.98,736.38 L725.99,736.14 L727,735.9 L728.01,735.66 L729.02,735.42 L730.03,735.18 L731.04,734.94 L732.05,734.7 L733.06,734.45 L734.07,734.2 L735.07,733.96 L736.08,733.71 L737.09,733.46 L738.1,733.21 L739.1,732.96 L740.11,732.71 L741.11,732.45 L742.12,732.2 L743.12,731.94 L744.13,731.68 L745.13,731.43 L746.13,731.17 L747.14,730.9 L748.14,730.64 L749.14,730.38 L750.14,730.11 L751.14,729.85 L752.14,729.58 L753.14,729.31 L754.14,729.04 L755.14,728.77 L756.14,728.5 L757.14,728.23 L758.14,727.95 L759.13,727.68 L760.13,727.4 L761.13,727.12 L762.12,726.84 L763.12,726.56 L764.11,726.28 L765.11,725.99 L766.1,725.71 L767.1,725.42 L768.09,725.14 L769.08,724.85 L770.07,724.56 L771.06,724.26 L772.05,723.97 L773.04,723.68 L774.03,723.38 L775.02,723.08 L776.01,722.79 L777,722.49 L777.99,722.18 L778.97,721.88 L779.96,721.58 L780.94,721.27 L781.93,720.96 L782.91,720.66 L783.9,720.35 L784.88,720.03 L785.86,719.72 L786.85,719.41 L787.83,719.09 L788.81,718.77 L789.79,718.46 L790.77,718.13 L791.75,717.81 L792.72,717.49 L793.7,717.16 L794.68,716.84 L795.66,716.51 L796.63,716.18 L797.61,715.85 L798.58,715.52 L799.55,715.18 L800.53,714.85 L801.5,714.51 L802.47,714.17 L803.44,713.83 L804.41,713.49 L805.38,713.14 L806.35,712.8 L807.32,712.45 L808.29,712.1 L809.25,711.75 L810.22,711.4 L811.19,711.05 L812.15,710.69 L813.11,710.33 L814.08,709.97 L815.04,709.61 L816,709.25 L816.96,708.89 L817.92,708.52 L818.88,708.15 L819.84,707.78 L820.8,707.41 L821.76,707.04 L822.71,706.67 L823.67,706.29 L824.63,705.91 L825.58,705.53 L826.53,705.15 L827.49,704.77 L828.44,704.38 L829.39,703.99 L830.34,703.6 L831.29,703.21 L832.24,702.82 L833.19,702.42 L834.13,702.03 L835.08,701.63 L836.02,701.23 L836.97,700.82 L837.91,700.42 L838.86,700.01 L839.8,699.6 L840.74,699.19 L841.68,698.78 L842.62,698.37 L843.56,697.95 L844.5,697.53 L845.43,697.11 L846.37,696.69 L847.3,696.26 L848.24,695.84 L849.17,695.41 L850.11,694.98 L851.04,694.54 L851.97,694.11 L852.9,693.67 L853.83,693.23 L854.76,692.79 L855.68,692.34 L856.61,691.9 L857.53,691.45 L858.46,691 L859.38,690.55 L860.31,690.09 L861.23,689.63 L862.15,689.17 L863.07,688.71 L863.99,688.25 L864.9,687.78 L865.82,687.31 L866.74,686.84 L867.65,686.37 L868.57,685.89 L869.48,685.41 L870.39,684.93 L871.3,684.45 L872.21,683.96 L873.12,683.47 L874.03,682.98 L874.94,682.49 L875.85,682 L876.75,681.5 L877.65,681 L878.56,680.49 L879.46,679.99 L880.36,679.48 L881.26,678.97 L882.16,678.46 L883.06,677.94 L883.96,677.42 L884.85,676.9 L885.75,676.38 L886.64,675.85 L887.53,675.32 L888.43,674.79 L889.32,674.26 L890.21,673.72 L891.1,673.18 L891.98,672.64 L892.87,672.09 L893.76,671.54 L894.64,670.99 L895.52,670.44 L896.41,669.88 L897.29,669.32 L898.17,668.76 L899.05,668.19 L899.92,667.62 L900.8,667.05 L901.68,666.48 L902.55,665.9 L903.42,665.32 L904.3,664.73 L905.17,664.15 L906.04,663.56 L906.91,662.97 L907.78,662.37 L908.64,661.77 L909.51,661.17 L910.37,660.56 L911.24,659.95 L912.1,659.34 L912.96,658.73 L913.82,658.11 L914.68,657.49 L915.53,656.86 L916.39,656.24 L917.25,655.6 L918.1,654.97 L918.95,654.33 L919.8,653.69 L920.65,653.04 L921.5,652.4 L922.35,651.74 L923.2,651.09 L924.04,650.43 L924.89,649.77 L925.73,649.1 L926.57,648.43 L927.41,647.76 L928.25,647.08 L929.09,646.4 L929.93,645.72 L930.76,645.03 L931.6,644.34 L932.43,643.64 L933.26,642.94 L934.09,642.24 L934.92,641.53 L935.75,640.82 L936.58,640.11 L937.4,639.39 L938.23,638.67 L939.05,637.94 L939.87,637.21 L940.69,636.47 L941.51,635.74 L942.33,634.99 L943.15,634.25 L943.96,633.49 L944.78,632.74 L945.59,631.98 L946.4,631.22 L947.21,630.45 L948.02,629.68 L948.83,628.9 L949.63,628.12 L950.44,627.33 L951.24,626.54 L952.05,625.75 L952.85,624.95 L953.65,624.15 L954.44,623.34 L955.24,622.53 L956.04,621.71 L956.83,620.89 L957.62,620.06 L958.42,619.23 L959.21,618.39 L959.99,617.55 L960.78,616.71 L961.57,615.86 L962.35,615 L963.14,614.14 L963.92,613.28 L964.7,612.41 L965.48,611.53 L966.25,610.65 L967.03,609.76 L967.81,608.87 L968.58,607.98 L969.35,607.08 L970.12,606.17 L970.89,605.26 L971.66,604.34 L972.43,603.42 L973.19,602.49 L973.95,601.56 L974.72,600.62 L975.48,599.67 L976.24,598.72 L976.99,597.76 L977.75,596.8 L978.51,595.83 L979.26,594.86 L980.01,593.88 L980.76,592.9 L981.51,591.91 L982.26,590.91 L983,589.9 L983.75,588.9 L984.49,587.88 L985.23,586.86 L985.97,585.83 L986.71,584.8 L987.45,583.75 L988.19,582.71 L988.92,581.65 L989.65,580.59 L990.39,579.53 L991.12,578.45 L991.84,577.37 L992.57,576.29 L993.3,575.19 L994.02,574.09 L994.74,572.99 L995.46,571.87 L996.18,570.75 L996.9,569.62 L997.62,568.49 L998.33,567.34 L999.04,566.19 L999.75,565.04 L1000.46,563.87 L1001.17,562.7 L1001.88,561.52 L1002.59,560.33 L1003.29,559.14 L1003.99,557.94 L1004.69,556.73 L1005.39,555.51 L1006.09,554.28 L1006.79,553.05 L1007.48,551.8 L1008.17,550.55 L1008.86,549.3 L1009.55,548.03 L1010.24,546.75 L1010.93,545.47 L1011.61,544.18 L1012.3,542.88 L1012.98,541.57 L1013.66,540.25 L1014.34,538.92 L1015.01,537.59 L1015.69,536.24 L1016.36,534.89 L1017.03,533.52 L1017.7,532.15 L1018.37,530.77 L1019.04,529.38 L1019.71,527.98 L1020.37,526.57 L1021.03,525.15 L1021.69,523.72 L1022.35,522.28 L1023.01,520.83 L1023.66,519.37 L1024.32,517.9 L1024.97,516.42 L1025.62,514.93 L1026.27,513.43 L1026.92,511.92 L1027.56,510.4 L1028.21,508.86 L1028.85,507.32 L1029.49,505.76 L1030.13,504.2 L1030.77,502.62 L1031.4,501.03 L1032.04,499.43 L1032.67,497.82 L1033.3,496.2 L1033.93,494.57 L1034.56,492.92 L1035.18,491.26 L1035.81,489.59 L1036.43,487.91 L1037.05,486.21 L1037.67,484.51 L1038.29,482.78 L1038.9,481.05 L1039.51,479.31 L1040.13,477.55 L1040.74,475.77 L1041.34,473.99 L1041.95,472.19 L1042.56,470.38 L1043.16,468.55 L1043.76,466.71 L1044.36,464.86 L1044.96,462.99 L1045.56,461.11 L1046.15,459.21 L1046.74,457.3 L1047.33,455.37 L1047.92,453.43 L1048.51,451.47 L1049.1,449.5 L1049.68,447.51 L1050.26,445.51 L1050.84,443.49 L1051.42,441.46 L1052,439.41 L1052.57,437.34 L1053.15,435.25 L1053.72,433.15 L1054.29,431.04 L1054.86,428.9 L1055.42,426.75 L1055.99,424.58 L1056.55,422.39 L1057.11,420.19 L1057.67,417.96 L1058.23,415.72 L1058.78,413.46 L1059.34,411.18 L1059.89,408.89 L1060.44,406.57 L1060.99,404.23 L1061.54,401.88 L1062.08,399.5 L1062.62,397.1 L1063.16,394.69 L1063.7,392.25 L1064.24,389.79 L1064.78,387.31 L1065.31,384.81 L1065.84,382.29 L1066.37,379.74 L1066.9,377.18 L1067.43,374.59 L1067.95,371.98 L1068.47,369.34 L1068.99,366.68 L1069.51,364 L1070.03,361.3 L1070.55,358.57 L1071.06,355.81 L1071.57,353.03 L1072.08,350.23 L1072.59,347.4 L1073.1,344.54 L1073.6,341.66 L1074.1,338.75 L1074.6,335.81 L1075.1,332.85 L1075.6,329.86 L1076.09,326.84 L1076.58,323.79 L1077.08,320.71 L1077.57,317.61 L1078.05,314.47 L1078.54,311.31 L1079.02,308.11 L1079.5,304.89 L1079.98,301.63 L1080.46,298.34 L1080.94,295.02 L1081.41,291.67 L1081.88,288.28 L1082.35,284.86 L1082.82,281.4 L1083.29,277.91 L1083.75,274.39 L1084.21,270.83 L1084.68,267.24 L1085.13,263.6 L1085.59,259.94 L1086.05,256.23 L1086.5,252.48 L1086.95,248.7 L1087.4,244.88 L1087.85,241.01 L1088.29,237.11 L1088.73,233.17 L1089.18,229.18 L1089.62,225.15 L1090.05,221.08 L1090.49,216.96 L1090.92,212.8 L1091.35,208.6 L1091.78,204.35 L1092.21,200.05 L1092.64,195.7 L1093.06,191.31 L1093.48,186.87 L1093.9,182.38 L1094.32,177.84 L1094.74,173.24 L1095.15,168.6 L1095.56,163.9 L1095.97,159.15 L1096.38,154.34 L1096.79,149.48 L1097.19,144.56 L1097.59,139.58 L1098,134.55 L1098.39,129.46 L1098.79,124.3 L1099.18,119.08 L1099.58,113.81 L1099.97,108.46 L1100.36,103.05 L1100.74,97.58 L1101.13,92.04 L1101.51,86.43 L1101.89,80.75 L1102.27,75 L1102.64,69.18 L1103.02,63.28 L1103.39,57.31 L1103.76,51.27 L1104.13,45.14 L1104.5,38.94 L1104.86,32.66 L1105.22,26.29 L1105.58,19.84 L1105.94,13.3 L1106.3,6.68 L1106.65,-0.03 L1107.01,-6.83 L1107.36,-13.72" stroke="#3d9bff"/>
<path d="M159.7,10 L159.7,28.11 L159.7,46.18 L159.7,64.23 L159.7,82.27 L159.7,100.29 L159.7,118.31 L159.7,136.34 L159.7,154.38 L159.7,172.43 L159.7,190.52 L159.7,208.64 L159.7,226.8 L159.7,245.01 L159.7,263.27 L159.7,281.6 L159.7,300 L159.7,318.84 L159.7,338.39 L159.7,358.49 L159.7,378.98 L159.7,399.73 L159.7,420.56 L159.7,441.32 L159.7,461.88 L159.7,482.05 L159.7,501.71 L159.7,520.68 L159.7,538.83 L159.7,555.99 L159.7,572 L159.7,586.72 L159.7,600 L159.7,611.84 L159.7,622.45 L159.71,631.91 L159.71,640.35 L159.71,647.87 L159.71,654.57 L159.72,660.55 L159.72,665.94 L159.72,670.82 L159.73,675.32 L159.73,679.53 L159.73,683.55 L159.74,687.51 L159.74,691.5 L159.75,695.63 L159.75,700 L159.75,704.36 L159.76,708.38 L159.76,712.1 L159.77,715.54 L159.78,718.73 L159.78,721.69 L159.79,724.46 L159.79,727.06 L159.8,729.52 L159.81,731.86 L159.81,734.11 L159.82,736.3 L159.83,738.46 L159.83,740.61 L159.84,742.78 L159.85,745 L159.86,747.21 L159.86,749.33 L159.87,751.38 L159.88,753.34 L159.88,755.24 L159.89,757.06 L159.89,758.81 L159.9,760.5 L159.91,762.13 L159.92,763.69 L159.93,765.2 L159.94,766.66 L159.95,768.06 L159.96,769.42 L159.98,770.73 L160,772 L160.02,773.21 L160.05,774.33 L160.07,775.37 L160.1,776.35 L160.13,777.26 L160.16,778.11 L160.19,778.91 L160.22,779.68 L160.26,780.4 L160.29,781.09 L160.33,781.76 L160.36,782.42 L160.4,783.06 L160.43,783.7 L160.47,784.34 L160.5,785 L160.53,785.64 L160.57,786.25 L160.6,786.83 L160.63,787.39 L160.66,787.91 L160.7,788.42 L160.73,788.91 L160.76,789.39 L160.8,789.86 L160.83,790.33 L160.87,790.79 L160.91,791.26 L160.94,791.72 L160.98,792.2 L161.02,792.69 L161.06,793.2 L161.1,793.72 L161.14,794.24 L161.18,794.77 L161.23,795.29 L161.27,795.82 L161.31,796.35 L161.36,796.88 L161.4,797.41 L161.45,797.94 L161.5,798.46 L161.54,798.98 L161.59,799.5 L161.64,800.01 L161.69,800.51 L161.75,801.01 L161.8,801.5 L161.85,801.98 L161.91,802.45 L161.96,802.92 L162.02,803.38 L162.08,803.84 L162.13,804.29 L162.19,804.74 L162.25,805.18 L162.31,805.62 L162.38,806.06 L162.44,806.5 L162.51,806.94 L162.58,807.38 L162.65,807.82 L162.72,808.26 L162.8,808.7 L162.88,809.15 L162.96,809.6 L163.04,810.05 L163.12,810.51 L163.2,810.97 L163.29,811.43 L163.37,811.88 L163.46,812.34 L163.55,812.79 L163.65,813.23 L163.75,813.67 L163.85,814.1 L163.96,814.51 L164.07,814.92 L164.18,815.32 L164.3,815.7 L164.42,816.07 L164.55,816.43 L164.68,816.78 L164.82,817.12 L164.96,817.46 L165.1,817.78 L165.25,818.1 L165.4,818.41 L165.55,818.72 L165.71,819.02 L165.87,819.31 L166.03,819.6 L166.19,819.88 L166.36,820.16 L166.53,820.43 L166.7,820.7 L166.87,820.97 L167.05,821.23 L167.24,821.49 L167.42,821.75 L167.61,822 L167.81,822.24 L168,822.48 L168.2,822.72 L168.4,822.95 L168.6,823.17 L168.8,823.38 L169,823.58 L169.2,823.77 L169.4,823.96 L169.6,824.14 L169.8,824.3 L169.98,824.45 L170.14,824.59 L170.29,824.71 L170.42,824.82 L170.54,824.92 L170.66,825.01 L170.79,825.09 L170.93,825.17 L171.08,825.24 L171.25,825.32 L171.44,825.39 L171.67,825.46 L171.93,825.54 L172.24,825.62 L172.59,825.7 L173,825.8 L173.46,825.9 L173.97,826.01 L174.52,826.11 L175.12,826.22 L175.75,826.33 L176.41,826.44 L177.09,826.55 L177.8,826.66 L178.53,826.77 L179.26,826.88 L180.01,826.99 L180.76,827.1 L181.51,827.2 L182.25,827.31 L182.98,827.4 L183.7,827.5 L184.41,827.59 L185.12,827.69 L185.84,827.78 L186.55,827.87 L187.28,827.96 L188,828.04 L188.74,828.13 L189.47,828.21 L190.22,828.29 L190.97,828.37 L191.74,828.45 L192.51,828.53 L193.29,828.6 L194.08,828.67 L194.88,828.74 L195.7,828.8 L196.52,828.86 L197.32,828.92 L198.13,828.98 L198.93,829.04 L199.74,829.09 L200.56,829.14 L201.38,829.19 L202.22,829.24 L203.09,829.28 L203.97,829.33 L204.89,829.36 L205.83,829.4 L206.81,829.43 L207.83,829.46 L208.89,829.48 L210,829.5 L211.16,829.51 L212.36,829.52 L213.61,829.53 L214.89,829.53 L216.21,829.53 L217.55,829.52 L218.93,829.51 L220.33,829.5 L221.75,829.48 L223.19,829.47 L224.64,829.45 L226.11,829.43 L227.58,829.41 L229.05,829.4 L230.53,829.38 L232,829.36 L232.3,829.36 L232.84,829.35 L233.38,829.34 L233.92,829.34 L234.46,829.33 L235.01,829.32 L235.56,829.31 L236.11,829.3 L236.66,829.3 L237.22,829.29 L237.77,829.28 L238.33,829.27 L238.89,829.27 L239.45,829.26 L240.01,829.25 L240.58,829.24 L241.14,829.23 L241.71,829.23 L242.28,829.22 L242.85,829.21 L243.43,829.2 L244,829.19 L244.58,829.18 L245.16,829.18 L245.74,829.17 L246.32,829.16 L246.9,829.15 L247.49,829.14 L248.08,829.14 L248.67,829.13 L249.26,829.12 L249.85,829.11 L250.44,829.1 L251.04,829.09 L251.64,829.08 L252.24,829.08 L252.84,829.07 L253.44,829.06 L254.05,829.05 L254.66,829.04 L255.26,829.03 L255.87,829.02 L256.49,829.01 L257.1,829 L257.71,828.99 L258.33,828.99 L258.95,828.98 L259.57,828.97 L260.19,828.96 L260.82,828.95 L261.44,828.94 L262.07,828.93 L262.7,828.92 L263.33,828.91 L263.96,828.9 L264.6,828.89 L265.23,828.88 L265.87,828.87 L266.51,828.86 L267.15,828.85 L267.79,828.84 L268.44,828.83 L269.08,828.82 L269.73,828.81 L270.38,828.8 L271.03,828.79 L271.68,828.78 L272.34,828.77 L272.99,828.75 L273.65,828.74 L274.31,828.73 L274.97,828.72 L275.63,828.71 L276.29,828.7 L276.96,828.69 L277.63,828.68 L278.3,828.67 L278.97,828.65 L279.64,828.64 L280.31,828.63 L280.99,828.62 L281.66,828.61 L282.34,828.59 L283.02,828.58 L283.7,828.57 L284.39,828.56 L285.07,828.55 L285.76,828.53 L286.45,828.52 L287.14,828.51 L287.83,828.49 L288.52,828.48 L289.21,828.47 L289.91,828.46 L290.61,828.44 L291.31,828.43 L292.01,828.42 L292.71,828.4 L293.41,828.39 L294.12,828.37 L294.83,828.36 L295.54,828.35 L296.25,828.33 L296.96,828.32 L297.67,828.3 L298.38,828.29 L299.1,828.27 L299.82,828.26 L300.54,828.25 L301.26,828.23 L301.98,828.22 L302.7,828.2 L303.43,828.19 L304.16,828.17 L304.88,828.15 L305.61,828.14 L306.35,828.12 L307.08,828.11 L307.81,828.09 L308.55,828.07 L309.29,828.06 L310.03,828.04 L310.77,828.03 L311.51,828.01 L312.25,827.99 L313,827.97 L313.74,827.96 L314.49,827.94 L315.24,827.92 L315.99,827.91 L316.74,827.89 L317.49,827.87 L318.25,827.85 L319.01,827.83 L319.76,827.82 L320.52,827.8 L321.28,827.78 L322.05,827.76 L322.81,827.74 L323.57,827.72 L324.34,827.7 L325.11,827.68 L325.88,827.67 L326.65,827.65 L327.42,827.63 L328.19,827.61 L328.97,827.59 L329.75,827.57 L330.52,827.55 L331.3,827.53 L332.08,827.5 L332.86,827.48 L333.65,827.46 L334.43,827.44 L335.22,827.42 L336.01,827.4 L336.79,827.38 L337.58,827.36 L338.38,827.33 L339.17,827.31 L339.96,827.29 L340.76,827.27 L341.56,827.24 L342.35,827.22 L343.15,827.2 L343.95,827.18 L344.76,827.15 L345.56,827.13 L346.37,827.11 L347.17,827.08 L347.98,827.06 L348.79,827.03 L349.6,827.01 L350.41,826.98 L351.22,826.96 L352.04,826.94 L352.85,826.91 L353.67,826.88 L354.49,826.86 L355.31,826.83 L356.13,826.81 L356.95,826.78 L357.77,826.76 L358.6,826.73 L359.42,826.7 L360.25,826.68 L361.08,826.65 L361.91,826.62 L362.74,826.59 L363.57,826.57 L364.4,826.54 L365.24,826.51 L366.07,826.48 L366.91,826.45 L367.75,826.43 L368.59,826.4 L369.43,826.37 L370.27,826.34 L371.11,826.31 L371.96,826.28 L372.8,826.25 L373.65,826.22 L374.5,826.19 L375.35,826.16 L376.2,826.13 L377.05,826.1 L377.9,826.07 L378.75,826.04 L379.61,826.01 L380.47,825.97 L381.32,825.94 L382.18,825.91 L383.04,825.88 L383.9,825.84 L384.76,825.81 L385.63,825.78 L386.49,825.75 L387.36,825.71 L388.22,825.68 L389.09,825.64 L389.96,825.61 L390.83,825.58 L391.7,825.54 L392.58,825.51 L393.45,825.47 L394.32,825.44 L395.2,825.4 L396.08,825.36 L396.95,825.33 L397.83,825.29 L398.71,825.26 L399.59,825.22 L400.48,825.18 L401.36,825.14 L402.24,825.11 L403.13,825.07 L404.02,825.03 L404.9,824.99 L405.79,824.95 L406.68,824.92 L407.57,824.88 L408.47,824.84 L409.36,824.8 L410.25,824.76 L411.15,824.72 L412.04,824.68 L412.94,824.64 L413.84,824.6 L414.74,824.55 L415.64,824.51 L416.54,824.47 L417.44,824.43 L418.35,824.39 L419.25,824.35 L420.15,824.3 L421.06,824.26 L421.97,824.22 L422.88,824.17 L423.79,824.13 L424.7,824.09 L425.61,824.04 L426.52,824 L427.43,823.95 L428.35,823.91 L429.26,823.86 L430.18,823.81 L431.1,823.77 L432.01,823.72 L432.93,823.68 L433.85,823.63 L434.77,823.58 L435.69,823.53 L436.62,823.49 L437.54,823.44 L438.47,823.39 L439.39,823.34 L440.32,823.29 L441.24,823.24 L442.17,823.19 L443.1,823.14 L444.03,823.09 L444.96,823.04 L445.89,822.99 L446.83,822.94 L447.76,822.89 L448.7,822.84 L449.63,822.79 L450.57,822.73 L451.5,822.68 L452.44,822.63 L453.38,822.57 L454.32,822.52 L455.26,822.47 L456.2,822.41 L457.14,822.36 L458.09,822.3 L459.03,822.25 L459.98,822.19 L460.92,822.14 L461.87,822.08 L462.81,822.02 L463.76,821.97 L464.71,821.91 L465.66,821.85 L466.61,821.79 L467.56,821.74 L468.51,821.68 L469.47,821.62 L470.42,821.56 L471.37,821.5 L472.33,821.44 L473.29,821.38 L474.24,821.32 L475.2,821.26 L476.16,821.2 L477.12,821.13 L478.08,821.07 L479.04,821.01 L480,820.95 L480.96,820.88 L481.92,820.82 L482.89,820.76 L483.85,820.69 L484.81,820.63 L485.78,820.56 L486.75,820.5 L487.71,820.43 L488.68,820.36 L489.65,820.3 L490.62,820.23 L491.59,820.16 L492.56,820.1 L493.53,820.03 L494.5,819.96 L495.47,819.89 L496.45,819.82 L497.42,819.75 L498.39,819.68 L499.37,819.61 L500.34,819.54 L501.32,819.47 L502.3,819.4 L503.28,819.33 L504.25,819.25 L505.23,819.18 L506.21,819.11 L507.19,819.03 L508.17,818.96 L509.15,818.89 L510.14,818.81 L511.12,818.74 L512.1,818.66 L513.09,818.59 L514.07,818.51 L515.06,818.43 L516.04,818.35 L517.03,818.28 L518.01,818.2 L519,818.12 L519.99,818.04 L520.98,817.96 L521.97,817.88 L522.96,817.8 L523.95,817.72 L524.94,817.64 L525.93,817.56 L526.92,817.48 L527.91,817.39 L528.9,817.31 L529.9,817.23 L530.89,817.14 L531.89,817.06 L532.88,816.98 L533.88,816.89 L534.87,816.8 L535.87,816.72 L536.87,816.63 L537.86,816.55 L538.86,816.46 L539.86,816.37 L540.86,816.28 L541.86,816.19 L542.86,816.1 L543.86,816.01 L544.86,815.92 L545.86,815.83 L546.86,815.74 L547.86,815.65 L548.86,815.56 L549.87,815.47 L550.87,815.37 L551.87,815.28 L552.88,815.19 L553.88,815.09 L554.89,815 L555.89,814.9 L556.9,814.8 L557.9,814.71 L558.91,814.61 L559.92,814.51 L560.93,814.41 L561.93,814.32 L562.94,814.22 L563.95,814.12 L564.96,814.02 L565.97,813.92 L566.98,813.82 L567.99,813.71 L569,813.61 L570.01,813.51 L571.02,813.41 L572.03,813.3 L573.04,813.2 L574.05,813.09 L575.07,812.99 L576.08,812.88 L577.09,812.78 L578.1,812.67 L579.12,812.56 L580.13,812.45 L581.15,812.34 L582.16,812.24 L583.17,812.13 L584.19,812.02 L585.21,811.9 L586.22,811.79 L587.24,811.68 L588.25,811.57 L589.27,811.46 L590.29,811.34 L591.3,811.23 L592.32,811.11 L593.34,811 L594.35,810.88 L595.37,810.77 L596.39,810.65 L597.41,810.53 L598.43,810.41 L599.45,810.29 L600.46,810.17 L601.48,810.05 L602.5,809.93 L603.52,809.81 L604.54,809.69 L605.56,809.57 L606.58,809.44 L607.6,809.32 L608.62,809.2 L609.64,809.07 L610.66,808.95 L611.69,808.82 L612.71,808.69 L613.73,808.56 L614.75,808.44 L615.77,808.31 L616.79,808.18 L617.81,808.05 L618.84,807.92 L619.86,807.79 L620.88,807.65 L621.9,807.52 L622.93,807.39 L623.95,807.25 L624.97,807.12 L625.99,806.98 L627.02,806.85 L628.04,806.71 L629.06,806.57 L630.09,806.44 L631.11,806.3 L632.13,806.16 L633.16,806.02 L634.18,805.88 L635.2,805.74 L636.23,805.59 L637.25,805.45 L638.27,805.31 L639.3,805.16 L640.32,805.02 L641.34,804.87 L642.37,804.73 L643.39,804.58 L644.42,804.43 L645.44,804.28 L646.46,804.13 L647.49,803.98 L648.51,803.83 L649.54,803.68 L650.56,803.53 L651.58,803.38 L652.61,803.22 L653.63,803.07 L654.66,802.91 L655.68,802.76 L656.7,802.6 L657.73,802.44 L658.75,802.28 L659.77,802.12 L660.8,801.96 L661.82,801.8 L662.84,801.64 L663.87,801.48 L664.89,801.32 L665.91,801.15 L666.94,800.99 L667.96,800.82 L668.98,800.66 L670.01,800.49 L671.03,800.32 L672.05,800.15 L673.07,799.98 L674.1,799.81 L675.12,799.64 L676.14,799.47 L677.16,799.29 L678.19,799.12 L679.21,798.95 L680.23,798.77 L681.25,798.59 L682.27,798.42 L683.29,798.24 L684.31,798.06 L685.34,797.88 L686.36,797.7 L687.38,797.52 L688.4,797.33 L689.42,797.15 L690.44,796.97 L691.46,796.78 L692.48,796.59 L693.5,796.41 L694.52,796.22 L695.54,796.03 L696.55,795.84 L697.57,795.65 L698.59,795.46 L699.61,795.26 L700.63,795.07 L701.65,794.87 L702.66,794.68 L703.68,794.48 L704.7,794.28 L705.71,794.08 L706.73,793.88 L707.75,793.68 L708.76,793.48 L709.78,793.28 L710.79,793.07 L711.81,792.87 L712.83,792.66 L713.84,792.46 L714.85,792.25 L715.87,792.04 L716.88,791.83 L717.9,791.62 L718.91,791.4 L719.92,791.19 L720.93,790.98 L721.95,790.76 L722.96,790.54 L723.97,790.33 L724.98,790.11 L725.99,789.89 L727,789.66 L728.01,789.44 L729.02,789.22 L730.03,788.99 L731.04,788.77 L732.05,788.54 L733.06,788.31 L734.07,788.08 L735.07,787.85 L736.08,787.62 L737.09,787.39 L738.1,787.15 L739.1,786.92 L740.11,786.68 L741.11,786.44 L742.12,786.21 L743.12,785.97 L744.13,785.72 L745.13,785.48 L746.13,785.24 L747.14,784.99 L748.14,784.74 L749.14,784.5 L750.14,784.25 L751.14,784 L752.14,783.74 L753.14,783.49 L754.14,783.24 L755.14,782.98 L756.14,782.72 L757.14,782.46 L758.14,782.2 L759.13,781.94 L760.13,781.68 L761.13,781.42 L762.12,781.15 L763.12,780.88 L764.11,780.62 L765.11,780.35 L766.1,780.07 L767.1,779.8 L768.09,779.53 L769.08,779.25 L770.07,778.97 L771.06,778.69 L772.05,778.41 L773.04,778.13 L774.03,777.85 L775.02,777.56 L776.01,777.28 L777,776.99 L777.99,776.7 L778.97,776.41 L779.96,776.12 L780.94,775.82 L781.93,775.52 L782.91,775.23 L783.9,774.93 L784.88,774.63 L785.86,774.32 L786.85,774.02 L787.83,773.71 L788.81,773.4 L789.79,773.1 L790.77,772.78 L791.75,772.47 L792.72,772.16 L793.7,771.84 L794.68,771.52 L795.66,771.2 L796.63,770.88 L797.61,770.56 L798.58,770.23 L799.55,769.9 L800.53,769.57 L801.5,769.24 L802.47,768.91 L803.44,768.57 L804.41,768.24 L805.38,767.9 L806.35,767.56 L807.32,767.21 L808.29,766.87 L809.25,766.52 L810.22,766.17 L811.19,765.82 L812.15,765.47 L813.11,765.11 L814.08,764.76 L815.04,764.4 L816,764.04 L816.96,763.67 L817.92,763.31 L818.88,762.94 L819.84,762.57 L820.8,762.2 L821.76,761.83 L822.71,761.45 L823.67,761.07 L824.63,760.69 L825.58,760.31 L826.53,759.92 L827.49,759.53 L828.44,759.14 L829.39,758.75 L830.34,758.36 L831.29,757.96 L832.24,757.56 L833.19,757.16 L834.13,756.75 L835.08,756.35 L836.02,755.94 L836.97,755.53 L837.91,755.11 L838.86,754.69 L839.8,754.27 L840.74,753.85 L841.68,753.43 L842.62,753 L843.56,752.57 L844.5,752.14 L845.43,751.7 L846.37,751.27 L847.3,750.83 L848.24,750.38 L849.17,749.94 L850.11,749.49 L851.04,749.04 L851.97,748.58 L852.9,748.12 L853.83,747.66 L854.76,747.2 L855.68,746.74 L856.61,746.27 L857.53,745.79 L858.46,745.32 L859.38,744.84 L860.31,744.36 L861.23,743.88 L862.15,743.39 L863.07,742.9 L863.99,742.41 L864.9,741.91 L865.82,741.41 L866.74,740.91 L867.65,740.4 L868.57,739.89 L869.48,739.38 L870.39,738.86 L871.3,738.34 L872.21,737.82 L873.12,737.3 L874.03,736.77 L874.94,736.23 L875.85,735.7 L876.75,735.16 L877.65,734.61 L878.56,734.07 L879.46,733.51 L880.36,732.96 L881.26,732.4 L882.16,731.84 L883.06,731.27 L883.96,730.71 L884.85,730.13 L885.75,729.56 L886.64,728.98 L887.53,728.39 L888.43,727.8 L889.32,727.21 L890.21,726.61 L891.1,726.01 L891.98,725.41 L892.87,724.8 L893.76,724.19 L894.64,723.57 L895.52,722.95 L896.41,722.32 L897.29,721.69 L898.17,721.06 L899.05,720.42 L899.92,719.78 L900.8,719.13 L901.68,718.48 L902.55,717.83 L903.42,717.17 L904.3,716.5 L905.17,715.83 L906.04,715.16 L906.91,714.48 L907.78,713.8 L908.64,713.11 L909.51,712.42 L910.37,711.72 L911.24,711.01 L912.1,710.31 L912.96,709.59 L913.82,708.88 L914.68,708.15 L915.53,707.43 L916.39,706.69 L917.25,705.96 L918.1,705.21 L918.95,704.47 L919.8,703.71 L920.65,702.95 L921.5,702.19 L922.35,701.42 L923.2,700.64 L924.04,699.86 L924.89,699.08 L925.73,698.28 L926.57,697.49 L927.41,696.68 L928.25,695.87 L929.09,695.06 L929.93,694.24 L930.76,693.41 L931.6,692.58 L932.43,691.74 L933.26,690.9 L934.09,690.04 L934.92,689.19 L935.75,688.32 L936.58,687.45 L937.4,686.58 L938.23,685.7 L939.05,684.81 L939.87,683.91 L940.69,683.01 L941.51,682.1 L942.33,681.19 L943.15,680.26 L943.96,679.33 L944.78,678.4 L945.59,677.46 L946.4,676.51 L947.21,675.55 L948.02,674.59 L948.83,673.62 L949.63,672.64 L950.44,671.65 L951.24,670.66 L952.05,669.66 L952.85,668.65 L953.65,667.64 L954.44,666.61 L955.24,665.58 L956.04,664.55 L956.83,663.5 L957.62,662.45 L958.42,661.38 L959.21,660.31 L959.99,659.24 L960.78,658.15 L961.57,657.06 L962.35,655.95 L963.14,654.84 L963.92,653.72 L964.7,652.59 L965.48,651.46 L966.25,650.31 L967.03,649.16 L967.81,648 L968.58,646.82 L969.35,645.64 L970.12,644.45 L970.89,643.25 L971.66,642.05 L972.43,640.83 L973.19,639.6 L973.95,638.36 L974.72,637.12 L975.48,635.86 L976.24,634.6 L976.99,633.32 L977.75,632.04 L978.51,630.74 L979.26,629.44 L980.01,628.12 L980.76,626.79 L981.51,625.46 L982.26,624.11 L983,622.75 L983.75,621.39 L984.49,620.01 L985.23,618.62 L985.97,617.22 L986.71,615.81 L987.45,614.38 L988.19,612.95 L988.92,611.5 L989.65,610.05 L990.39,608.58 L991.12,607.1 L991.84,605.61 L992.57,604.1 L993.3,602.59 L994.02,601.06 L994.74,599.52 L995.46,597.97 L996.18,596.4 L996.9,594.83 L997.62,593.24 L998.33,591.63 L999.04,590.02 L999.75,588.39 L1000.46,586.75 L1001.17,585.09 L1001.88,583.42 L1002.59,581.74 L1003.29,580.05 L1003.99,578.34 L1004.69,576.61 L1005.39,574.88 L1006.09,573.13 L1006.79,571.36 L1007.48,569.58 L1008.17,567.79 L1008.86,565.98 L1009.55,564.15 L1010.24,562.31 L1010.93,560.46 L1011.61,558.59 L1012.3,556.71 L1012.98,554.81 L1013.66,552.89 L1014.34,550.96 L1015.01,549.01 L1015.69,547.05 L1016.36,545.07 L1017.03,543.07 L1017.7,541.06 L1018.37,539.03 L1019.04,536.98 L1019.71,534.92 L1020.37,532.84 L1021.03,530.74 L1021.69,528.63 L1022.35,526.49 L1023.01,524.34 L1023.66,522.17 L1024.32,519.98 L1024.97,517.78 L1025.62,515.55 L1026.27,513.31 L1026.92,511.05 L1027.56,508.77 L1028.21,506.47 L1028.85,504.15 L1029.49,501.81 L1030.13,499.45 L1030.77,497.07 L1031.4,494.67 L1032.04,492.25 L1032.67,489.81 L1033.3,487.34 L1033.93,484.86 L1034.56,482.36 L1035.18,479.83 L1035.81,477.28 L1036.43,474.71 L1037.05,472.12 L1037.67,469.51 L1038.29,466.87 L1038.9,464.21 L1039.51,461.53 L1040.13,458.83 L1040.74,456.1 L1041.34,453.34 L1041.95,450.57 L1042.56,447.77 L1043.16,444.94 L1043.76,442.09 L1044.36,439.22 L1044.96,436.32 L1045.56,433.39 L1046.15,430.44 L1046.74,427.46 L1047.33,424.46 L1047.92,421.43 L1048.51,418.37 L1049.1,415.29 L1049.68,412.18 L1050.26,409.04 L1050.84,405.87 L1051.42,402.68 L1052,399.45 L1052.57,396.2 L1053.15,392.92 L1053.72,389.61 L1054.29,386.27 L1054.86,382.9 L1055.42,379.5 L1055.99,376.06 L1056.55,372.6 L1057.11,369.11 L1057.67,365.58 L1058.23,362.02 L1058.78,358.43 L1059.34,354.81 L1059.89,351.15 L1060.44,347.46 L1060.99,343.74 L1061.54,339.98 L1062.08,336.19 L1062.62,332.37 L1063.16,328.5 L1063.7,324.61 L1064.24,320.67 L1064.78,316.7 L1065.31,312.69 L1065.84,308.65 L1066.37,304.57 L1066.9,300.45 L1067.43,296.29 L1067.95,292.09 L1068.47,287.85 L1068.99,283.57 L1069.51,279.26 L1070.03,274.9 L1070.55,270.5 L1071.06,266.05 L1071.57,261.57 L1072.08,257.04 L1072.59,252.47 L1073.1,247.86 L1073.6,243.2 L1074.1,238.5 L1074.6,233.75 L1075.1,228.95 L1075.6,224.11 L1076.09,219.22 L1076.58,214.29 L1077.08,209.3 L1077.57,204.27 L1078.05,199.19 L1078.54,194.06 L1079.02,188.87 L1079.5,183.64 L1079.98,178.35 L1080.46,173.02 L1080.94,167.62 L1081.41,162.18 L1081.88,156.68 L1082.35,151.12 L1082.82,145.51 L1083.29,139.84 L1083.75,134.12 L1084.21,128.34 L1084.68,122.49 L1085.13,116.59 L1085.59,110.63 L1086.05,104.61 L1086.5,98.52 L1086.95,92.38 L1087.4,86.16 L1087.85,79.89 L1088.29,73.55 L1088.73,67.14 L1089.18,60.66 L1089.62,54.12 L1090.05,47.51 L1090.49,40.83 L1090.92,34.07 L1091.35,27.25 L1091.78,20.35 L1092.21,13.38 L1092.64,6.33 L1093.06,-0.79 L1093.48,-7.99 L1093.9,-15.27" stroke="#bf6bff"/>
<g fill="#3d9bff" stroke="none"><path d="M163.02,612.5 L171.52,605 L180.02,612.5 L171.52,620Z"/><path d="M187.45,741.5 L195.95,734 L204.45,741.5 L195.95,749Z"/><path d="M211.89,758 L220.39,750.5 L228.89,758 L220.39,765.5Z"/><path d="M236.32,767.5 L244.82,760 L253.32,767.5 L244.82,775Z"/><path d="M260.76,773.7 L269.26,766.2 L277.76,773.7 L269.26,781.2Z"/><path d="M285.19,776.2 L293.69,768.7 L302.19,776.2 L293.69,783.7Z"/><path d="M309.63,777.2 L318.13,769.7 L326.63,777.2 L318.13,784.7Z"/><path d="M334.06,777.8 L342.56,770.3 L351.06,777.8 L342.56,785.3Z"/><path d="M358.5,777.8 L367,770.3 L375.5,777.8 L367,785.3Z"/><path d="M382.93,776.6 L391.43,769.1 L399.93,776.6 L391.43,784.1Z"/><path d="M407.37,776.6 L415.87,769.1 L424.37,776.6 L415.87,784.1Z"/><path d="M431.8,775.6 L440.3,768.1 L448.8,775.6 L440.3,783.1Z"/><path d="M456.24,774.5 L464.74,767 L473.24,774.5 L464.74,782Z"/><path d="M480.67,772.7 L489.17,765.2 L497.67,772.7 L489.17,780.2Z"/><path d="M505.11,770 L513.61,762.5 L522.11,770 L513.61,777.5Z"/><path d="M529.54,768.8 L538.04,761.3 L546.54,768.8 L538.04,776.3Z"/><path d="M553.98,765.9 L562.48,758.4 L570.98,765.9 L562.48,773.4Z"/><path d="M578.41,763.8 L586.91,756.3 L595.41,763.8 L586.91,771.3Z"/><path d="M602.85,758.4 L611.35,750.9 L619.85,758.4 L611.35,765.9Z"/><path d="M627.28,755.6 L635.78,748.1 L644.28,755.6 L635.78,763.1Z"/><path d="M651.72,751.8 L660.22,744.3 L668.72,751.8 L660.22,759.3Z"/><path d="M676.15,744.8 L684.65,737.3 L693.15,744.8 L684.65,752.3Z"/><path d="M700.59,740.7 L709.09,733.2 L717.59,740.7 L709.09,748.2Z"/><path d="M725.02,737 L733.52,729.5 L742.02,737 L733.52,744.5Z"/><path d="M749.46,731.8 L757.96,724.3 L766.46,731.8 L757.96,739.3Z"/><path d="M773.89,721.9 L782.39,714.4 L790.89,721.9 L782.39,729.4Z"/><path d="M798.33,713.7 L806.83,706.2 L815.33,713.7 L806.83,721.2Z"/><path d="M822.76,703.8 L831.26,696.3 L839.76,703.8 L831.26,711.3Z"/><path d="M847.2,694.1 L855.7,686.6 L864.2,694.1 L855.7,701.6Z"/><path d="M871.63,679.3 L880.13,671.8 L888.63,679.3 L880.13,686.8Z"/><path d="M896.07,666.9 L904.57,659.4 L913.07,666.9 L904.57,674.4Z"/><path d="M920.5,648.4 L929,640.9 L937.5,648.4 L929,655.9Z"/><path d="M944.94,629.4 L953.44,621.9 L961.94,629.4 L953.44,636.9Z"/><path d="M969.37,600.5 L977.87,593 L986.37,600.5 L977.87,608Z"/><path d="M993.81,560.9 L1002.31,553.4 L1010.81,560.9 L1002.31,568.4Z"/><path d="M1018.24,512 L1026.74,504.5 L1035.24,512 L1026.74,519.5Z"/><path d="M1042.68,443.8 L1051.18,436.3 L1059.68,443.8 L1051.18,451.3Z"/><path d="M1067.11,326.8 L1075.61,319.3 L1084.11,326.8 L1075.61,334.3Z"/><path d="M1091.55,91.5 L1100.05,84 L1108.55,91.5 L1100.05,99Z"/></g>
<g fill="#bf6bff" stroke="none"><circle cx="171.52" cy="819.9" r="8.0"/><circle cx="195.95" cy="830.4" r="8.0"/><circle cx="220.39" cy="831.5" r="8.0"/><circle cx="244.82" cy="830.9" r="8.0"/><circle cx="269.26" cy="830.9" r="8.0"/><circle cx="293.69" cy="829.8" r="8.0"/><circle cx="318.13" cy="829.8" r="8.0"/><circle cx="342.56" cy="829.4" r="8.0"/><circle cx="367" cy="827.8" r="8.0"/><circle cx="391.43" cy="827.4" r="8.0"/><circle cx="415.87" cy="826.3" r="8.0"/><circle cx="440.3" cy="824.7" r="8.0"/><circle cx="464.74" cy="824.3" r="8.0"/><circle cx="489.17" cy="822.2" r="8.0"/><circle cx="513.61" cy="821.4" r="8.0"/><circle cx="538.04" cy="818.7" r="8.0"/><circle cx="562.48" cy="816.8" r="8.0"/><circle cx="586.91" cy="813.8" r="8.0"/><circle cx="611.35" cy="810.9" r="8.0"/><circle cx="635.78" cy="809.2" r="8.0"/><circle cx="660.22" cy="804.5" r="8.0"/><circle cx="684.65" cy="801.4" r="8.0"/><circle cx="709.09" cy="795.8" r="8.0"/><circle cx="733.52" cy="792.3" r="8.0"/><circle cx="757.96" cy="784" r="8.0"/><circle cx="782.39" cy="777.8" r="8.0"/><circle cx="806.83" cy="771.1" r="8.0"/><circle cx="831.26" cy="760.5" r="8.0"/><circle cx="855.7" cy="748.3" r="8.0"/><circle cx="880.13" cy="734.3" r="8.0"/><circle cx="904.57" cy="716.4" r="8.0"/><circle cx="929" cy="696.75" r="8.0"/><circle cx="953.44" cy="668.55" r="8.0"/><circle cx="977.87" cy="630.8" r="8.0"/><circle cx="1002.31" cy="581.3" r="8.0"/><circle cx="1026.74" cy="511.9" r="8.0"/><circle cx="1051.18" cy="404.6" r="8.0"/><circle cx="1075.61" cy="218.2" r="8.0"/></g>
</g>
<path d="M159.3,839.25 v-13.7 M159.3,25 v13.7 M208.17,839.25 v-8.2 M208.17,25 v8.2 M257.04,839.25 v-8.2 M257.04,25 v8.2 M305.91,839.25 v-8.2 M305.91,25 v8.2 M354.78,839.25 v-8.2 M354.78,25 v8.2 M403.65,839.25 v-13.7 M403.65,25 v13.7 M452.52,839.25 v-8.2 M452.52,25 v8.2 M501.39,839.25 v-8.2 M501.39,25 v8.2 M550.26,839.25 v-8.2 M550.26,25 v8.2 M599.13,839.25 v-8.2 M599.13,25 v8.2 M648,839.25 v-13.7 M648,25 v13.7 M696.87,839.25 v-8.2 M696.87,25 v8.2 M745.74,839.25 v-8.2 M745.74,25 v8.2 M794.61,839.25 v-8.2 M794.61,25 v8.2 M843.48,839.25 v-8.2 M843.48,25 v8.2 M892.35,839.25 v-13.7 M892.35,25 v13.7 M941.22,839.25 v-8.2 M941.22,25 v8.2 M990.09,839.25 v-8.2 M990.09,25 v8.2 M1038.96,839.25 v-8.2 M1038.96,25 v8.2 M1087.83,839.25 v-8.2 M1087.83,25 v8.2 M1136.7,839.25 v-13.7 M1136.7,25 v13.7 M139,798.54 h8.2 M1157.45,798.54 h-8.2 M139,757.83 h8.2 M1157.45,757.83 h-8.2 M139,717.11 h8.2 M1157.45,717.11 h-8.2 M139,676.4 h13.7 M1157.45,676.4 h-13.7 M139,635.69 h8.2 M1157.45,635.69 h-8.2 M139,594.97 h8.2 M1157.45,594.97 h-8.2 M139,554.26 h8.2 M1157.45,554.26 h-8.2 M139,513.55 h13.7 M1157.45,513.55 h-13.7 M139,472.84 h8.2 M1157.45,472.84 h-8.2 M139,432.12 h8.2 M1157.45,432.12 h-8.2 M139,391.41 h8.2 M1157.45,391.41 h-8.2 M139,350.7 h13.7 M1157.45,350.7 h-13.7 M139,309.99 h8.2 M1157.45,309.99 h-8.2 M139,269.27 h8.2 M1157.45,269.27 h-8.2 M139,228.56 h8.2 M1157.45,228.56 h-8.2 M139,187.85 h13.7 M1157.45,187.85 h-13.7 M139,147.14 h8.2 M1157.45,147.14 h-8.2 M139,106.42 h8.2 M1157.45,106.42 h-8.2 M139,65.71 h8.2 M1157.45,65.71 h-8.2 " stroke="#000" stroke-width="4.2" fill="none"/>
<rect x="139.0" y="25.0" width="1018.45" height="814.25" fill="none" stroke="#000" stroke-width="4.2"/>
<g font-size="47.2" fill="#000"><text transform="translate(129.2,854.75) scale(0.975,1)" text-anchor="end">0.0</text><text transform="translate(129.2,691.9) scale(0.975,1)" text-anchor="end">0.2</text><text transform="translate(129.2,529.05) scale(0.975,1)" text-anchor="end">0.4</text><text transform="translate(129.2,366.2) scale(0.975,1)" text-anchor="end">0.6</text><text transform="translate(129.2,203.35) scale(0.975,1)" text-anchor="end">0.8</text><text transform="translate(129.2,40.5) scale(0.975,1)" text-anchor="end">1.0</text><text transform="translate(161.2,890) scale(0.975,1)">3</text><text transform="translate(405.55,890) scale(0.975,1)">2</text><text transform="translate(649.9,890) scale(0.975,1)">1</text><text transform="translate(892.35,890) scale(0.975,1)" text-anchor="middle">0</text><text transform="translate(1136.7,890) scale(0.975,1)" text-anchor="middle">1</text></g>
<path d="M137.4,879 h21.9 M381.75,879 h21.9 M626.1,879 h21.9 " stroke="#000" stroke-width="1.9" fill="none"/>
<text x="648.2" y="963" font-size="45" font-style="italic" text-anchor="middle">u</text>
<text transform="translate(39.7,432.5) rotate(-90)" font-size="45" font-style="italic" text-anchor="middle" letter-spacing="-0.6">h(u)</text>
<rect x="575.75" y="129.4" width="12.5" height="12.5" fill="#ff6600"/>
<path d="M572.7,219.7 L582.15,211.3 L591.6,219.7 L582.15,228.05Z" fill="#3d9bff"/>
<circle cx="581.7" cy="299.85" r="9.25" fill="#bf6bff"/>
<g font-size="40" fill="#000"><text x="636.0" y="148.15" font-style="italic">r</text><text x="696.6" y="148.15">0</text><text x="718.1" y="148.15">.</text><text x="725.5" y="148.15">1</text><text x="636.0" y="229.3" font-style="italic">r</text><text x="696.2" y="229.3">1</text><text x="718.1" y="229.3">.</text><text x="636.0" y="309.8" font-style="italic">r</text><text x="696.6" y="309.8">2</text><text x="718.1" y="309.8">.</text></g>
<path d="M662.7,135.6 H686.2 M662.7,142.65 H686.2 M662.7,216.75 H686.2 M662.7,223.8 H686.2 M662.7,297.25 H686.2 M662.7,304.3 H686.2 " stroke="#000" stroke-width="1.9" fill="none"/>
</svg>
</body></html>
